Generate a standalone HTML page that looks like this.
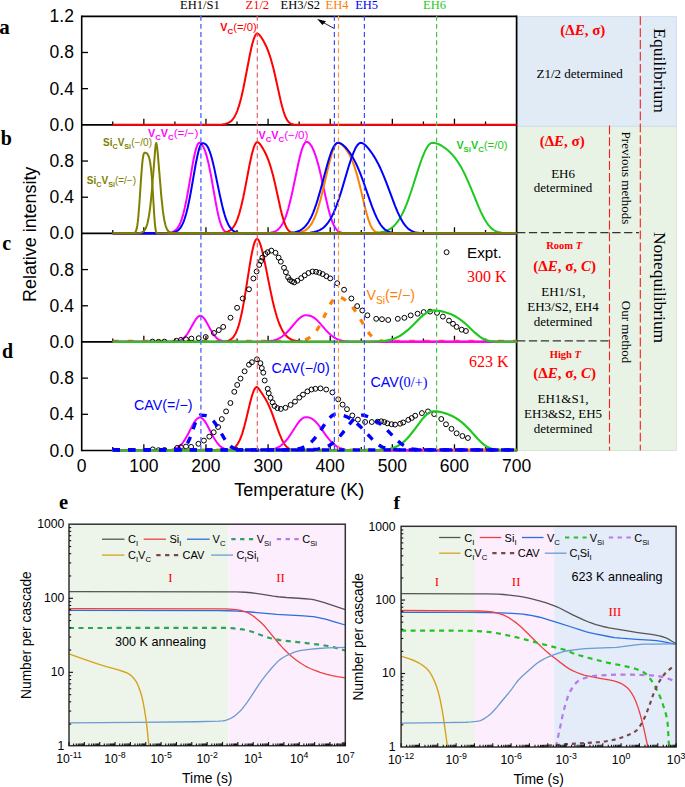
<!DOCTYPE html><html><head><meta charset="utf-8"><style>html,body{margin:0;padding:0;background:#fff;width:685px;height:787px;overflow:hidden}</style></head><body><svg width="685" height="787" viewBox="0 0 685 787" style="display:block">
<rect width="685" height="787" fill="#fff"/>
<defs><clipPath id="clipc"><rect x="81.70" y="233.40" width="434.90" height="108.35"/></clipPath><clipPath id="clipd"><rect x="81.70" y="341.95" width="434.90" height="108.35"/></clipPath></defs>
<rect x="517" y="126.2" width="159.3" height="324.3" fill="#e8f3e6" stroke="#d5e8cf" stroke-width="1"/>
<rect x="517" y="16.6" width="159.3" height="109.6" fill="#e0ebf6" stroke="#cddff0" stroke-width="1"/>
<g stroke="#000" fill="none">
<line x1="81.70" y1="16.30" x2="516.60" y2="16.30" stroke-width="1.7"/>
<line x1="81.70" y1="15.50" x2="81.70" y2="451.30" stroke-width="1.6"/>
<line x1="516.60" y1="15.50" x2="516.60" y2="451.30" stroke-width="1.7"/>
<line x1="81.70" y1="124.85" x2="516.60" y2="124.85" stroke-width="1.7"/>
<line x1="112.76" y1="124.85" x2="112.76" y2="121.45" stroke-width="1.3"/>
<line x1="143.83" y1="124.85" x2="143.83" y2="118.65" stroke-width="1.3"/>
<line x1="174.89" y1="124.85" x2="174.89" y2="121.45" stroke-width="1.3"/>
<line x1="205.96" y1="124.85" x2="205.96" y2="118.65" stroke-width="1.3"/>
<line x1="237.02" y1="124.85" x2="237.02" y2="121.45" stroke-width="1.3"/>
<line x1="268.09" y1="124.85" x2="268.09" y2="118.65" stroke-width="1.3"/>
<line x1="299.15" y1="124.85" x2="299.15" y2="121.45" stroke-width="1.3"/>
<line x1="330.21" y1="124.85" x2="330.21" y2="118.65" stroke-width="1.3"/>
<line x1="361.28" y1="124.85" x2="361.28" y2="121.45" stroke-width="1.3"/>
<line x1="392.34" y1="124.85" x2="392.34" y2="118.65" stroke-width="1.3"/>
<line x1="423.41" y1="124.85" x2="423.41" y2="121.45" stroke-width="1.3"/>
<line x1="454.47" y1="124.85" x2="454.47" y2="118.65" stroke-width="1.3"/>
<line x1="485.54" y1="124.85" x2="485.54" y2="121.45" stroke-width="1.3"/>
<line x1="81.70" y1="88.67" x2="88.00" y2="88.67" stroke-width="1.3"/>
<line x1="81.70" y1="52.48" x2="88.00" y2="52.48" stroke-width="1.3"/>
<line x1="81.70" y1="233.40" x2="516.60" y2="233.40" stroke-width="1.7"/>
<line x1="112.76" y1="233.40" x2="112.76" y2="230.00" stroke-width="1.3"/>
<line x1="143.83" y1="233.40" x2="143.83" y2="227.20" stroke-width="1.3"/>
<line x1="174.89" y1="233.40" x2="174.89" y2="230.00" stroke-width="1.3"/>
<line x1="205.96" y1="233.40" x2="205.96" y2="227.20" stroke-width="1.3"/>
<line x1="237.02" y1="233.40" x2="237.02" y2="230.00" stroke-width="1.3"/>
<line x1="268.09" y1="233.40" x2="268.09" y2="227.20" stroke-width="1.3"/>
<line x1="299.15" y1="233.40" x2="299.15" y2="230.00" stroke-width="1.3"/>
<line x1="330.21" y1="233.40" x2="330.21" y2="227.20" stroke-width="1.3"/>
<line x1="361.28" y1="233.40" x2="361.28" y2="230.00" stroke-width="1.3"/>
<line x1="392.34" y1="233.40" x2="392.34" y2="227.20" stroke-width="1.3"/>
<line x1="423.41" y1="233.40" x2="423.41" y2="230.00" stroke-width="1.3"/>
<line x1="454.47" y1="233.40" x2="454.47" y2="227.20" stroke-width="1.3"/>
<line x1="485.54" y1="233.40" x2="485.54" y2="230.00" stroke-width="1.3"/>
<line x1="81.70" y1="197.22" x2="88.00" y2="197.22" stroke-width="1.3"/>
<line x1="81.70" y1="161.03" x2="88.00" y2="161.03" stroke-width="1.3"/>
<line x1="81.70" y1="341.95" x2="516.60" y2="341.95" stroke-width="1.7"/>
<line x1="112.76" y1="341.95" x2="112.76" y2="338.55" stroke-width="1.3"/>
<line x1="143.83" y1="341.95" x2="143.83" y2="335.75" stroke-width="1.3"/>
<line x1="174.89" y1="341.95" x2="174.89" y2="338.55" stroke-width="1.3"/>
<line x1="205.96" y1="341.95" x2="205.96" y2="335.75" stroke-width="1.3"/>
<line x1="237.02" y1="341.95" x2="237.02" y2="338.55" stroke-width="1.3"/>
<line x1="268.09" y1="341.95" x2="268.09" y2="335.75" stroke-width="1.3"/>
<line x1="299.15" y1="341.95" x2="299.15" y2="338.55" stroke-width="1.3"/>
<line x1="330.21" y1="341.95" x2="330.21" y2="335.75" stroke-width="1.3"/>
<line x1="361.28" y1="341.95" x2="361.28" y2="338.55" stroke-width="1.3"/>
<line x1="392.34" y1="341.95" x2="392.34" y2="335.75" stroke-width="1.3"/>
<line x1="423.41" y1="341.95" x2="423.41" y2="338.55" stroke-width="1.3"/>
<line x1="454.47" y1="341.95" x2="454.47" y2="335.75" stroke-width="1.3"/>
<line x1="485.54" y1="341.95" x2="485.54" y2="338.55" stroke-width="1.3"/>
<line x1="81.70" y1="305.77" x2="88.00" y2="305.77" stroke-width="1.3"/>
<line x1="81.70" y1="269.58" x2="88.00" y2="269.58" stroke-width="1.3"/>
<line x1="81.70" y1="450.50" x2="516.60" y2="450.50" stroke-width="1.7"/>
<line x1="112.76" y1="450.50" x2="112.76" y2="447.10" stroke-width="1.3"/>
<line x1="143.83" y1="450.50" x2="143.83" y2="444.30" stroke-width="1.3"/>
<line x1="174.89" y1="450.50" x2="174.89" y2="447.10" stroke-width="1.3"/>
<line x1="205.96" y1="450.50" x2="205.96" y2="444.30" stroke-width="1.3"/>
<line x1="237.02" y1="450.50" x2="237.02" y2="447.10" stroke-width="1.3"/>
<line x1="268.09" y1="450.50" x2="268.09" y2="444.30" stroke-width="1.3"/>
<line x1="299.15" y1="450.50" x2="299.15" y2="447.10" stroke-width="1.3"/>
<line x1="330.21" y1="450.50" x2="330.21" y2="444.30" stroke-width="1.3"/>
<line x1="361.28" y1="450.50" x2="361.28" y2="447.10" stroke-width="1.3"/>
<line x1="392.34" y1="450.50" x2="392.34" y2="444.30" stroke-width="1.3"/>
<line x1="423.41" y1="450.50" x2="423.41" y2="447.10" stroke-width="1.3"/>
<line x1="454.47" y1="450.50" x2="454.47" y2="444.30" stroke-width="1.3"/>
<line x1="485.54" y1="450.50" x2="485.54" y2="447.10" stroke-width="1.3"/>
<line x1="81.70" y1="414.32" x2="88.00" y2="414.32" stroke-width="1.3"/>
<line x1="81.70" y1="378.13" x2="88.00" y2="378.13" stroke-width="1.3"/>
</g>
<path d="M112.76,124.70 L217.72,124.64 L222.22,124.41 L225.22,123.97 L227.72,123.19 L229.72,122.13 L231.22,120.96 L232.22,119.95 L233.72,118.01 L234.71,116.40 L236.21,113.42 L237.21,111.03 L239.21,105.16 L241.21,97.79 L243.21,88.99 L245.21,79.06 L249.71,55.48 L251.21,48.43 L252.21,44.28 L253.71,39.13 L254.71,36.55 L255.71,34.73 L256.21,34.12 L256.71,33.72 L257.21,33.53 L257.71,33.58 L258.21,33.82 L259.20,34.67 L260.70,36.52 L262.20,38.79 L263.70,41.35 L265.20,44.21 L266.70,47.42 L268.20,51.09 L269.70,55.31 L270.70,58.45 L273.20,67.54 L275.20,75.97 L280.70,100.87 L282.20,106.84 L283.69,111.98 L285.19,116.15 L286.19,118.36 L287.19,120.14 L288.19,121.52 L289.19,122.56 L290.19,123.31 L291.69,124.03 L293.69,124.48 L297.19,124.68 L516.60,124.70" fill="none" stroke="#ff0000" stroke-width="2.0" stroke-linejoin="round"/>
<path d="M112.76,233.25 L161.74,233.23 L166.74,233.09 L169.74,232.76 L172.24,232.12 L174.24,231.15 L175.24,230.43 L176.24,229.52 L177.24,228.37 L178.24,226.93 L179.74,224.16 L180.74,221.83 L181.74,219.09 L183.24,214.10 L184.74,208.05 L186.73,198.38 L188.23,190.13 L192.73,163.80 L194.73,153.78 L196.23,148.03 L197.23,145.29 L197.73,144.28 L198.23,143.53 L198.73,143.03 L199.23,142.81 L199.73,142.82 L200.23,142.96 L201.23,143.66 L202.23,144.89 L203.23,146.62 L204.23,148.81 L205.23,151.47 L206.23,154.58 L207.23,158.15 L208.73,164.37 L210.72,174.17 L215.72,202.44 L217.22,210.25 L218.72,217.01 L220.22,222.46 L221.72,226.54 L222.72,228.56 L223.72,230.08 L224.72,231.18 L225.72,231.95 L226.72,232.46 L227.72,232.79 L229.72,233.12 L232.72,233.23 L516.60,233.25" fill="none" stroke="#ff00ff" stroke-width="2.0" stroke-linejoin="round"/>
<path d="M112.76,233.25 L261.70,233.22 L266.70,233.07 L270.20,232.74 L272.70,232.24 L275.20,231.33 L276.70,230.50 L278.20,229.38 L279.70,227.89 L281.20,225.96 L282.70,223.52 L283.69,221.56 L285.19,218.08 L286.19,215.38 L288.19,209.03 L290.69,199.36 L293.19,188.09 L298.19,164.01 L299.69,157.48 L300.69,153.58 L302.19,148.60 L303.69,144.88 L304.69,143.19 L305.19,142.60 L305.69,142.19 L306.19,141.95 L306.69,141.89 L307.68,142.08 L308.68,142.64 L309.68,143.55 L311.18,145.57 L312.18,147.32 L313.68,150.53 L314.68,153.05 L316.18,157.41 L318.18,164.26 L320.18,172.21 L326.18,199.45 L328.18,208.01 L330.18,215.46 L332.18,221.49 L333.67,225.01 L334.67,226.90 L335.67,228.45 L336.67,229.69 L337.67,230.67 L338.67,231.41 L340.17,232.20 L341.67,232.68 L343.67,233.02 L345.67,233.16 L348.67,233.23 L516.60,233.25" fill="none" stroke="#ff00ff" stroke-width="2.0" stroke-linejoin="round"/>
<path d="M112.76,233.25 L217.72,233.19 L222.22,232.96 L225.22,232.52 L227.72,231.74 L229.72,230.68 L231.22,229.51 L232.22,228.50 L233.72,226.56 L234.71,224.95 L236.21,221.97 L237.21,219.58 L239.21,213.71 L241.21,206.34 L243.21,197.54 L245.21,187.61 L249.71,164.03 L251.21,156.98 L252.21,152.83 L253.71,147.68 L254.71,145.10 L255.71,143.28 L256.21,142.67 L256.71,142.27 L257.21,142.08 L257.71,142.13 L258.21,142.37 L259.20,143.22 L260.70,145.07 L262.20,147.34 L263.70,149.90 L265.20,152.76 L266.70,155.97 L268.20,159.64 L269.70,163.86 L270.70,167.00 L273.20,176.09 L275.20,184.52 L280.70,209.42 L282.20,215.39 L283.69,220.53 L285.19,224.70 L286.19,226.91 L287.19,228.69 L288.19,230.07 L289.19,231.11 L290.19,231.86 L291.69,232.58 L293.69,233.03 L297.19,233.23 L516.60,233.25" fill="none" stroke="#ff0000" stroke-width="2.0" stroke-linejoin="round"/>
<path d="M112.76,233.25 L288.19,233.22 L293.69,233.08 L297.69,232.75 L300.69,232.20 L303.19,231.38 L305.19,230.38 L306.69,229.35 L308.68,227.51 L310.18,225.70 L311.68,223.47 L313.18,220.77 L314.68,217.53 L315.68,215.07 L316.68,212.35 L318.18,207.80 L320.68,199.01 L323.18,188.96 L328.68,165.36 L330.18,159.47 L331.68,154.19 L332.67,151.12 L333.67,148.47 L335.17,145.38 L336.17,143.96 L336.67,143.46 L337.17,143.09 L337.67,142.87 L338.17,142.79 L338.67,142.83 L339.67,143.14 L341.17,144.06 L343.17,145.88 L345.17,148.20 L347.17,150.98 L348.67,153.40 L350.67,157.18 L352.17,160.52 L353.67,164.35 L354.67,167.20 L357.16,175.39 L359.66,184.99 L365.66,210.04 L367.16,215.57 L368.66,220.39 L370.16,224.37 L371.16,226.53 L372.16,228.30 L373.16,229.71 L374.16,230.80 L375.16,231.61 L376.16,232.19 L377.16,232.59 L378.66,232.95 L380.66,233.16 L383.15,233.24 L516.60,233.25" fill="none" stroke="#ff8000" stroke-width="2.0" stroke-linejoin="round"/>
<path d="M112.76,233.25 L363.16,233.22 L370.66,233.11 L376.16,232.82 L380.66,232.28 L384.15,231.50 L386.65,230.65 L389.15,229.47 L391.65,227.86 L393.65,226.20 L395.65,224.15 L397.65,221.66 L399.65,218.69 L401.15,216.12 L402.65,213.25 L404.65,208.95 L406.14,205.38 L408.14,200.17 L411.64,190.04 L417.64,171.17 L420.14,163.58 L422.14,158.00 L424.14,153.06 L425.64,149.88 L426.64,148.04 L427.64,146.46 L428.64,145.15 L429.64,144.12 L430.63,143.38 L431.63,142.93 L432.63,142.79 L434.13,142.89 L435.63,143.17 L437.13,143.62 L438.63,144.21 L441.63,145.76 L445.13,148.09 L448.63,150.98 L451.63,153.94 L454.63,157.43 L457.12,160.81 L459.62,164.67 L461.62,168.11 L463.62,171.88 L466.12,177.04 L470.12,186.15 L478.62,206.79 L480.61,211.31 L482.61,215.47 L484.61,219.22 L486.61,222.49 L488.11,224.60 L490.11,226.98 L492.11,228.86 L494.11,230.29 L496.61,231.55 L499.11,232.33 L501.61,232.79 L505.10,233.10 L509.10,233.22 L516.60,233.25" fill="none" stroke="#1ec81e" stroke-width="2.0" stroke-linejoin="round"/>
<path d="M112.76,233.25 L163.74,233.23 L168.74,233.12 L172.24,232.78 L174.74,232.16 L176.74,231.24 L177.74,230.57 L178.74,229.71 L179.74,228.62 L180.74,227.28 L181.74,225.63 L182.74,223.65 L183.74,221.28 L184.74,218.49 L186.23,213.48 L187.73,207.44 L189.73,197.87 L191.23,189.76 L195.73,164.02 L197.73,154.24 L199.23,148.59 L200.23,145.86 L201.23,144.07 L201.73,143.55 L202.23,143.28 L202.73,143.25 L203.73,143.35 L204.73,143.70 L205.73,144.39 L206.73,145.49 L207.73,147.03 L208.73,149.03 L209.72,151.52 L210.72,154.48 L212.22,159.76 L214.22,168.12 L219.72,194.63 L222.22,205.80 L223.72,211.63 L224.72,215.08 L225.72,218.16 L226.72,220.88 L227.72,223.23 L228.72,225.25 L229.72,226.94 L231.22,228.94 L232.22,229.96 L233.72,231.12 L235.21,231.91 L236.71,232.44 L238.21,232.77 L240.21,233.03 L245.71,233.23 L516.60,233.25" fill="none" stroke="#0000ff" stroke-width="2.0" stroke-linejoin="round"/>
<path d="M112.76,233.25 L281.20,233.21 L287.19,233.06 L291.69,232.72 L295.19,232.13 L298.19,231.23 L300.19,230.32 L302.19,229.08 L304.19,227.42 L305.69,225.86 L307.19,223.97 L308.68,221.73 L310.18,219.11 L311.68,216.07 L313.18,212.60 L314.68,208.70 L316.18,204.37 L317.68,199.65 L320.68,189.20 L327.18,164.95 L329.18,158.20 L330.68,153.71 L332.67,148.74 L333.67,146.76 L334.67,145.16 L335.67,143.96 L336.67,143.17 L337.17,142.94 L338.17,142.80 L339.67,143.09 L341.17,143.78 L343.17,145.18 L345.17,147.02 L347.17,149.25 L349.17,151.83 L351.17,154.78 L353.17,158.11 L355.17,161.86 L356.67,164.95 L358.16,168.30 L360.16,173.13 L363.66,182.49 L369.66,199.83 L372.16,206.79 L374.66,213.15 L376.66,217.64 L379.16,222.38 L380.66,224.73 L382.15,226.70 L383.15,227.83 L384.65,229.24 L386.15,230.35 L387.65,231.21 L390.15,232.17 L392.65,232.73 L395.65,233.05 L400.15,233.21 L516.60,233.25" fill="none" stroke="#0000ff" stroke-width="2.0" stroke-linejoin="round"/>
<path d="M112.76,233.25 L298.69,233.21 L305.19,233.05 L310.18,232.69 L314.18,232.04 L317.18,231.19 L319.68,230.12 L321.68,228.96 L323.68,227.45 L325.18,226.05 L327.18,223.78 L328.68,221.74 L330.68,218.52 L332.18,215.72 L333.67,212.56 L335.17,209.04 L336.67,205.18 L338.67,199.52 L341.67,190.10 L349.17,164.83 L351.17,158.70 L353.17,153.30 L355.17,148.83 L356.17,147.01 L357.16,145.50 L358.16,144.31 L359.16,143.45 L360.16,142.95 L361.16,142.79 L361.66,142.88 L362.66,143.27 L364.16,144.25 L365.66,145.56 L367.66,147.67 L369.66,150.11 L372.16,153.53 L374.16,156.59 L376.16,159.96 L378.16,163.67 L379.66,166.69 L383.15,174.54 L386.65,183.36 L395.15,206.06 L397.65,212.07 L399.65,216.39 L401.15,219.28 L402.65,221.86 L403.65,223.40 L405.15,225.44 L406.14,226.63 L407.64,228.15 L409.14,229.40 L410.64,230.40 L413.14,231.60 L414.64,232.10 L416.14,232.46 L419.64,232.95 L423.64,233.17 L516.60,233.25" fill="none" stroke="#0000ff" stroke-width="2.0" stroke-linejoin="round"/>
<path d="M112.76,233.25 L133.26,233.19 L134.26,232.97 L134.76,232.70 L135.26,232.23 L135.75,231.45 L136.25,230.22 L136.75,228.37 L137.25,225.75 L137.75,222.20 L138.25,217.64 L139.25,205.53 L141.25,175.57 L142.25,163.33 L142.75,158.93 L143.25,155.79 L143.75,153.86 L144.25,152.95 L144.75,152.74 L145.75,152.82 L146.25,153.01 L146.75,153.33 L147.25,153.82 L147.75,154.50 L148.25,155.42 L148.75,156.64 L149.25,158.23 L149.75,160.33 L150.25,163.05 L151.25,170.97 L151.75,176.43 L152.75,190.54 L154.25,215.29 L154.75,222.11 L155.25,227.23 L155.75,230.51 L156.25,232.24 L156.75,232.97 L157.25,233.19 L516.60,233.25" fill="none" stroke="#808000" stroke-width="2.0" stroke-linejoin="round"/>
<path d="M112.76,233.25 L134.76,233.23 L137.75,233.15 L139.75,232.96 L141.75,232.43 L143.25,231.58 L144.25,230.61 L144.75,229.96 L145.75,228.20 L146.75,225.65 L147.25,224.01 L148.25,219.80 L149.25,214.12 L150.25,206.71 L151.25,197.41 L152.25,186.26 L155.25,148.76 L155.75,144.42 L156.25,142.98 L156.75,145.08 L157.25,148.72 L157.75,153.45 L161.24,195.36 L162.74,209.67 L163.74,216.82 L164.24,219.72 L165.24,224.30 L165.74,226.06 L166.74,228.72 L167.74,230.49 L168.74,231.61 L169.74,232.31 L171.24,232.86 L173.24,233.14 L175.74,233.23 L516.60,233.25" fill="none" stroke="#808000" stroke-width="2.0" stroke-linejoin="round"/>
<path d="M112.76,341.35 L287.69,341.33 L296.69,341.12 L299.69,340.86 L302.19,340.49 L304.19,340.03 L305.69,339.56 L307.68,338.72 L309.18,337.89 L310.68,336.86 L312.18,335.62 L313.68,334.12 L314.68,332.98 L317.18,329.59 L318.68,327.20 L320.18,324.55 L322.68,319.67 L328.68,307.16 L330.18,304.34 L331.68,301.84 L332.67,300.40 L333.67,299.17 L335.17,297.75 L336.67,296.91 L337.67,296.68 L338.17,296.67 L339.17,296.82 L340.67,297.31 L342.17,298.04 L343.67,298.95 L345.17,299.99 L347.17,301.59 L350.17,304.46 L353.17,307.98 L356.17,312.20 L359.16,317.05 L365.66,328.24 L367.66,331.33 L369.66,334.02 L371.66,336.25 L372.66,337.18 L374.16,338.35 L375.16,338.99 L376.66,339.74 L379.16,340.57 L381.16,340.95 L383.15,341.16 L388.65,341.33 L516.60,341.35" fill="none" stroke="#ff8000" stroke-width="3.2" stroke-dasharray="5.8 9.0" stroke-linejoin="round"/>
<path d="M112.76,341.80 L219.72,341.75 L223.72,341.56 L226.22,341.22 L227.72,340.85 L228.72,340.50 L229.72,340.04 L230.72,339.45 L232.22,338.23 L233.22,337.15 L234.71,335.02 L235.71,333.20 L236.71,331.01 L237.71,328.42 L238.71,325.37 L239.71,321.85 L241.71,313.33 L243.71,302.90 L245.71,290.90 L249.71,265.28 L251.21,256.54 L252.21,251.40 L253.71,245.09 L254.71,242.01 L255.71,239.94 L256.21,239.30 L256.71,238.95 L257.21,238.87 L257.71,239.13 L258.21,239.67 L258.70,240.43 L259.70,242.58 L260.70,245.44 L262.20,250.83 L264.70,261.89 L270.20,289.36 L272.70,300.92 L274.20,307.17 L275.70,312.82 L276.70,316.23 L278.20,320.81 L279.70,324.78 L281.20,328.15 L282.70,330.97 L284.19,333.31 L285.69,335.21 L287.69,337.18 L289.69,338.63 L292.19,339.87 L293.69,340.38 L295.19,340.77 L298.69,341.33 L303.19,341.64 L309.18,341.77 L516.60,341.80" fill="none" stroke="#ff0000" stroke-width="2.0" stroke-linejoin="round"/>
<path d="M112.76,341.80 L169.74,341.76 L172.74,341.68 L175.24,341.49 L177.24,341.20 L178.74,340.83 L180.74,340.07 L182.24,339.22 L184.24,337.62 L185.73,336.01 L187.23,334.04 L188.73,331.72 L193.73,322.67 L195.73,319.40 L197.23,317.51 L198.23,316.61 L199.23,316.05 L200.23,315.84 L201.23,316.00 L202.23,316.53 L203.23,317.40 L204.23,318.57 L206.23,321.65 L210.22,329.05 L212.22,332.50 L214.22,335.39 L216.22,337.63 L218.22,339.24 L219.22,339.84 L220.72,340.52 L223.22,341.21 L226.22,341.60 L232.22,341.78 L516.60,341.80" fill="none" stroke="#ff00ff" stroke-width="2.0" stroke-linejoin="round"/>
<path d="M112.76,341.80 L255.21,341.78 L264.20,341.61 L267.20,341.42 L270.20,341.09 L273.70,340.41 L276.70,339.46 L279.70,338.06 L282.20,336.47 L284.69,334.47 L287.69,331.54 L290.19,328.75 L296.19,321.62 L299.19,318.55 L301.19,316.95 L302.69,316.06 L303.69,315.64 L304.69,315.35 L306.19,315.21 L308.68,315.41 L310.68,315.95 L312.68,316.88 L315.18,318.60 L317.18,320.37 L319.18,322.41 L325.68,329.84 L328.18,332.53 L331.18,335.32 L333.67,337.21 L336.17,338.69 L339.17,339.96 L342.17,340.78 L345.17,341.27 L350.17,341.65 L357.16,341.78 L516.60,341.80" fill="none" stroke="#ff00ff" stroke-width="2.0" stroke-linejoin="round"/>
<g clip-path="url(#clipc)">
<circle cx="152.4" cy="341.6" r="2.45" fill="none" stroke="#000" stroke-width="1"/>
<circle cx="158.5" cy="341.8" r="2.45" fill="none" stroke="#000" stroke-width="1"/>
<circle cx="164.5" cy="341.6" r="2.45" fill="none" stroke="#000" stroke-width="1"/>
<circle cx="176.5" cy="340.8" r="2.45" fill="none" stroke="#000" stroke-width="1"/>
<circle cx="180.9" cy="339.9" r="2.45" fill="none" stroke="#000" stroke-width="1"/>
<circle cx="186.0" cy="339.3" r="2.45" fill="none" stroke="#000" stroke-width="1"/>
<circle cx="191.4" cy="338.6" r="2.45" fill="none" stroke="#000" stroke-width="1"/>
<circle cx="198.7" cy="338.2" r="2.45" fill="none" stroke="#000" stroke-width="1"/>
<circle cx="205.7" cy="337.0" r="2.45" fill="none" stroke="#000" stroke-width="1"/>
<circle cx="214.0" cy="333.0" r="2.45" fill="none" stroke="#000" stroke-width="1"/>
<circle cx="218.8" cy="330.1" r="2.45" fill="none" stroke="#000" stroke-width="1"/>
<circle cx="223.2" cy="326.9" r="2.45" fill="none" stroke="#000" stroke-width="1"/>
<circle cx="230.5" cy="317.7" r="2.45" fill="none" stroke="#000" stroke-width="1"/>
<circle cx="237.1" cy="307.8" r="2.45" fill="none" stroke="#000" stroke-width="1"/>
<circle cx="242.8" cy="298.5" r="2.45" fill="none" stroke="#000" stroke-width="1"/>
<circle cx="249.0" cy="289.3" r="2.45" fill="none" stroke="#000" stroke-width="1"/>
<circle cx="253.4" cy="278.5" r="2.45" fill="none" stroke="#000" stroke-width="1"/>
<circle cx="256.6" cy="271.5" r="2.45" fill="none" stroke="#000" stroke-width="1"/>
<circle cx="259.2" cy="264.9" r="2.45" fill="none" stroke="#000" stroke-width="1"/>
<circle cx="261.1" cy="261.0" r="2.45" fill="none" stroke="#000" stroke-width="1"/>
<circle cx="262.4" cy="257.6" r="2.45" fill="none" stroke="#000" stroke-width="1"/>
<circle cx="265.5" cy="254.0" r="2.45" fill="none" stroke="#000" stroke-width="1"/>
<circle cx="267.7" cy="252.2" r="2.45" fill="none" stroke="#000" stroke-width="1"/>
<circle cx="271.3" cy="250.6" r="2.45" fill="none" stroke="#000" stroke-width="1"/>
<circle cx="275.5" cy="252.8" r="2.45" fill="none" stroke="#000" stroke-width="1"/>
<circle cx="278.6" cy="257.6" r="2.45" fill="none" stroke="#000" stroke-width="1"/>
<circle cx="280.8" cy="261.7" r="2.45" fill="none" stroke="#000" stroke-width="1"/>
<circle cx="284.0" cy="267.8" r="2.45" fill="none" stroke="#000" stroke-width="1"/>
<circle cx="285.9" cy="272.2" r="2.45" fill="none" stroke="#000" stroke-width="1"/>
<circle cx="288.1" cy="277.3" r="2.45" fill="none" stroke="#000" stroke-width="1"/>
<circle cx="289.9" cy="280.0" r="2.45" fill="none" stroke="#000" stroke-width="1"/>
<circle cx="292.0" cy="281.4" r="2.45" fill="none" stroke="#000" stroke-width="1"/>
<circle cx="294.2" cy="282.4" r="2.45" fill="none" stroke="#000" stroke-width="1"/>
<circle cx="297.4" cy="280.7" r="2.45" fill="none" stroke="#000" stroke-width="1"/>
<circle cx="301.2" cy="278.1" r="2.45" fill="none" stroke="#000" stroke-width="1"/>
<circle cx="304.7" cy="275.4" r="2.45" fill="none" stroke="#000" stroke-width="1"/>
<circle cx="308.5" cy="273.0" r="2.45" fill="none" stroke="#000" stroke-width="1"/>
<circle cx="312.5" cy="271.5" r="2.45" fill="none" stroke="#000" stroke-width="1"/>
<circle cx="316.1" cy="271.8" r="2.45" fill="none" stroke="#000" stroke-width="1"/>
<circle cx="319.3" cy="272.7" r="2.45" fill="none" stroke="#000" stroke-width="1"/>
<circle cx="322.7" cy="274.1" r="2.45" fill="none" stroke="#000" stroke-width="1"/>
<circle cx="326.4" cy="276.2" r="2.45" fill="none" stroke="#000" stroke-width="1"/>
<circle cx="330.2" cy="278.4" r="2.45" fill="none" stroke="#000" stroke-width="1"/>
<circle cx="337.2" cy="283.2" r="2.45" fill="none" stroke="#000" stroke-width="1"/>
<circle cx="344.1" cy="289.7" r="2.45" fill="none" stroke="#000" stroke-width="1"/>
<circle cx="351.4" cy="298.5" r="2.45" fill="none" stroke="#000" stroke-width="1"/>
<circle cx="357.2" cy="306.1" r="2.45" fill="none" stroke="#000" stroke-width="1"/>
<circle cx="362.3" cy="310.5" r="2.45" fill="none" stroke="#000" stroke-width="1"/>
<circle cx="367.4" cy="315.3" r="2.45" fill="none" stroke="#000" stroke-width="1"/>
<circle cx="376.2" cy="318.8" r="2.45" fill="none" stroke="#000" stroke-width="1"/>
<circle cx="382.0" cy="319.2" r="2.45" fill="none" stroke="#000" stroke-width="1"/>
<circle cx="388.2" cy="320.0" r="2.45" fill="none" stroke="#000" stroke-width="1"/>
<circle cx="397.8" cy="318.8" r="2.45" fill="none" stroke="#000" stroke-width="1"/>
<circle cx="404.4" cy="317.8" r="2.45" fill="none" stroke="#000" stroke-width="1"/>
<circle cx="410.7" cy="315.4" r="2.45" fill="none" stroke="#000" stroke-width="1"/>
<circle cx="417.6" cy="313.7" r="2.45" fill="none" stroke="#000" stroke-width="1"/>
<circle cx="423.7" cy="312.1" r="2.45" fill="none" stroke="#000" stroke-width="1"/>
<circle cx="430.1" cy="311.6" r="2.45" fill="none" stroke="#000" stroke-width="1"/>
<circle cx="437.0" cy="312.9" r="2.45" fill="none" stroke="#000" stroke-width="1"/>
<circle cx="442.9" cy="316.6" r="2.45" fill="none" stroke="#000" stroke-width="1"/>
<circle cx="449.0" cy="320.6" r="2.45" fill="none" stroke="#000" stroke-width="1"/>
<circle cx="453.0" cy="323.8" r="2.45" fill="none" stroke="#000" stroke-width="1"/>
<circle cx="456.6" cy="326.9" r="2.45" fill="none" stroke="#000" stroke-width="1"/>
<circle cx="461.7" cy="329.7" r="2.45" fill="none" stroke="#000" stroke-width="1"/>
<circle cx="465.9" cy="331.0" r="2.45" fill="none" stroke="#000" stroke-width="1"/>
</g>
<g>
<circle cx="446.6" cy="252.2" r="2.45" fill="none" stroke="#000" stroke-width="1"/>
</g>
<path d="M112.76,341.85 L362.16,341.83 L374.16,341.66 L378.66,341.46 L382.15,341.18 L385.15,340.82 L387.65,340.40 L390.15,339.84 L392.15,339.29 L394.15,338.61 L396.15,337.80 L398.15,336.85 L400.15,335.75 L403.65,333.44 L407.64,330.21 L411.64,326.46 L420.14,317.94 L422.64,315.68 L424.64,314.08 L427.14,312.42 L429.64,311.22 L431.13,310.74 L432.13,310.53 L434.13,310.37 L436.63,310.50 L439.13,310.83 L442.13,311.43 L445.13,312.22 L448.13,313.18 L451.13,314.35 L453.63,315.50 L456.12,316.84 L459.62,319.08 L463.62,322.17 L467.12,325.28 L474.62,332.43 L478.12,335.44 L480.11,336.93 L482.11,338.20 L483.61,339.01 L485.61,339.89 L487.61,340.56 L489.61,341.04 L492.11,341.43 L494.61,341.65 L500.61,341.83 L516.60,341.85" fill="none" stroke="#1ec81e" stroke-width="2.2" stroke-linejoin="round"/>
<path d="M112.76,450.35 L221.72,450.32 L225.72,450.19 L228.22,449.95 L230.22,449.57 L232.22,448.87 L233.72,448.05 L234.71,447.31 L235.71,446.37 L236.71,445.22 L237.71,443.81 L238.71,442.11 L239.71,440.10 L240.71,437.76 L242.21,433.60 L244.21,426.87 L246.21,419.02 L250.21,402.24 L252.21,394.99 L253.71,390.80 L254.71,388.79 L255.71,387.49 L256.21,387.13 L256.71,386.95 L257.21,387.09 L258.21,388.09 L259.70,390.09 L261.70,393.01 L265.20,398.50 L266.70,401.17 L268.20,404.11 L270.20,408.55 L272.20,413.57 L277.70,429.05 L279.70,434.41 L281.70,439.12 L283.19,442.08 L284.19,443.76 L285.19,445.20 L286.19,446.40 L287.19,447.39 L288.19,448.17 L289.19,448.79 L290.19,449.25 L291.69,449.74 L293.19,450.03 L294.69,450.19 L298.69,450.33 L516.60,450.35" fill="none" stroke="#ff0000" stroke-width="2.0" stroke-linejoin="round"/>
<path d="M112.76,450.35 L164.74,450.28 L168.24,450.13 L170.74,449.87 L173.24,449.40 L175.24,448.76 L177.24,447.80 L179.24,446.43 L181.24,444.55 L182.74,442.77 L184.24,440.67 L186.23,437.39 L188.23,433.67 L192.23,425.85 L193.73,423.18 L194.73,421.60 L196.23,419.64 L197.23,418.66 L198.23,417.97 L198.73,417.74 L199.73,417.52 L200.73,417.63 L201.23,417.80 L202.23,418.39 L203.23,419.27 L204.73,421.11 L205.73,422.62 L207.23,425.21 L212.22,434.93 L214.22,438.52 L216.72,442.32 L218.72,444.72 L219.72,445.70 L221.22,446.93 L222.22,447.60 L223.72,448.40 L225.22,449.00 L226.72,449.43 L228.22,449.74 L230.22,450.01 L233.72,450.24 L238.71,450.33 L516.60,450.35" fill="none" stroke="#ff00ff" stroke-width="2.0" stroke-linejoin="round"/>
<path d="M112.76,450.35 L256.71,450.33 L265.70,450.13 L268.70,449.89 L271.20,449.55 L274.70,448.73 L276.20,448.20 L277.70,447.54 L279.20,446.72 L280.70,445.73 L283.19,443.66 L285.69,441.03 L288.19,437.85 L290.69,434.22 L296.69,424.93 L298.19,422.84 L299.69,420.99 L301.69,419.00 L303.19,417.95 L304.69,417.33 L306.19,417.15 L307.68,417.24 L308.68,417.41 L310.68,418.08 L312.68,419.22 L313.68,419.96 L315.18,421.30 L317.18,423.43 L319.18,425.91 L326.18,435.66 L328.68,438.93 L331.68,442.32 L334.17,444.62 L336.67,446.43 L338.17,447.29 L339.67,448.00 L342.67,449.03 L345.67,449.65 L348.17,449.96 L351.17,450.17 L359.16,450.33 L516.60,450.35" fill="none" stroke="#ff00ff" stroke-width="2.0" stroke-linejoin="round"/>
<g clip-path="url(#clipd)">
<circle cx="152.8" cy="449.4" r="2.45" fill="none" stroke="#000" stroke-width="1"/>
<circle cx="158.5" cy="450.2" r="2.45" fill="none" stroke="#000" stroke-width="1"/>
<circle cx="164.5" cy="450.0" r="2.45" fill="none" stroke="#000" stroke-width="1"/>
<circle cx="177.2" cy="447.9" r="2.45" fill="none" stroke="#000" stroke-width="1"/>
<circle cx="180.9" cy="447.2" r="2.45" fill="none" stroke="#000" stroke-width="1"/>
<circle cx="186.0" cy="446.5" r="2.45" fill="none" stroke="#000" stroke-width="1"/>
<circle cx="191.1" cy="446.9" r="2.45" fill="none" stroke="#000" stroke-width="1"/>
<circle cx="198.4" cy="443.8" r="2.45" fill="none" stroke="#000" stroke-width="1"/>
<circle cx="203.9" cy="440.6" r="2.45" fill="none" stroke="#000" stroke-width="1"/>
<circle cx="209.3" cy="436.6" r="2.45" fill="none" stroke="#000" stroke-width="1"/>
<circle cx="213.7" cy="432.3" r="2.45" fill="none" stroke="#000" stroke-width="1"/>
<circle cx="218.1" cy="427.0" r="2.45" fill="none" stroke="#000" stroke-width="1"/>
<circle cx="221.8" cy="419.1" r="2.45" fill="none" stroke="#000" stroke-width="1"/>
<circle cx="226.1" cy="411.4" r="2.45" fill="none" stroke="#000" stroke-width="1"/>
<circle cx="230.4" cy="403.0" r="2.45" fill="none" stroke="#000" stroke-width="1"/>
<circle cx="234.3" cy="391.8" r="2.45" fill="none" stroke="#000" stroke-width="1"/>
<circle cx="237.2" cy="384.9" r="2.45" fill="none" stroke="#000" stroke-width="1"/>
<circle cx="240.5" cy="378.6" r="2.45" fill="none" stroke="#000" stroke-width="1"/>
<circle cx="244.6" cy="371.3" r="2.45" fill="none" stroke="#000" stroke-width="1"/>
<circle cx="249.0" cy="364.7" r="2.45" fill="none" stroke="#000" stroke-width="1"/>
<circle cx="251.9" cy="362.2" r="2.45" fill="none" stroke="#000" stroke-width="1"/>
<circle cx="257.0" cy="359.3" r="2.45" fill="none" stroke="#000" stroke-width="1"/>
<circle cx="260.4" cy="363.2" r="2.45" fill="none" stroke="#000" stroke-width="1"/>
<circle cx="261.8" cy="368.1" r="2.45" fill="none" stroke="#000" stroke-width="1"/>
<circle cx="263.3" cy="372.7" r="2.45" fill="none" stroke="#000" stroke-width="1"/>
<circle cx="264.7" cy="380.5" r="2.45" fill="none" stroke="#000" stroke-width="1"/>
<circle cx="267.7" cy="388.8" r="2.45" fill="none" stroke="#000" stroke-width="1"/>
<circle cx="268.7" cy="393.2" r="2.45" fill="none" stroke="#000" stroke-width="1"/>
<circle cx="270.6" cy="397.8" r="2.45" fill="none" stroke="#000" stroke-width="1"/>
<circle cx="272.6" cy="402.4" r="2.45" fill="none" stroke="#000" stroke-width="1"/>
<circle cx="274.5" cy="406.0" r="2.45" fill="none" stroke="#000" stroke-width="1"/>
<circle cx="277.4" cy="408.1" r="2.45" fill="none" stroke="#000" stroke-width="1"/>
<circle cx="280.8" cy="408.9" r="2.45" fill="none" stroke="#000" stroke-width="1"/>
<circle cx="285.5" cy="407.8" r="2.45" fill="none" stroke="#000" stroke-width="1"/>
<circle cx="290.6" cy="404.9" r="2.45" fill="none" stroke="#000" stroke-width="1"/>
<circle cx="295.0" cy="401.6" r="2.45" fill="none" stroke="#000" stroke-width="1"/>
<circle cx="299.3" cy="397.6" r="2.45" fill="none" stroke="#000" stroke-width="1"/>
<circle cx="303.0" cy="394.6" r="2.45" fill="none" stroke="#000" stroke-width="1"/>
<circle cx="307.4" cy="391.4" r="2.45" fill="none" stroke="#000" stroke-width="1"/>
<circle cx="311.5" cy="389.5" r="2.45" fill="none" stroke="#000" stroke-width="1"/>
<circle cx="315.4" cy="388.8" r="2.45" fill="none" stroke="#000" stroke-width="1"/>
<circle cx="320.5" cy="388.4" r="2.45" fill="none" stroke="#000" stroke-width="1"/>
<circle cx="326.2" cy="389.5" r="2.45" fill="none" stroke="#000" stroke-width="1"/>
<circle cx="332.4" cy="392.4" r="2.45" fill="none" stroke="#000" stroke-width="1"/>
<circle cx="338.2" cy="399.3" r="2.45" fill="none" stroke="#000" stroke-width="1"/>
<circle cx="342.6" cy="404.6" r="2.45" fill="none" stroke="#000" stroke-width="1"/>
<circle cx="347.0" cy="409.2" r="2.45" fill="none" stroke="#000" stroke-width="1"/>
<circle cx="352.3" cy="415.5" r="2.45" fill="none" stroke="#000" stroke-width="1"/>
<circle cx="357.9" cy="419.6" r="2.45" fill="none" stroke="#000" stroke-width="1"/>
<circle cx="365.1" cy="422.0" r="2.45" fill="none" stroke="#000" stroke-width="1"/>
<circle cx="371.8" cy="422.0" r="2.45" fill="none" stroke="#000" stroke-width="1"/>
<circle cx="377.7" cy="421.7" r="2.45" fill="none" stroke="#000" stroke-width="1"/>
<circle cx="381.2" cy="421.3" r="2.45" fill="none" stroke="#000" stroke-width="1"/>
<circle cx="384.3" cy="422.0" r="2.45" fill="none" stroke="#000" stroke-width="1"/>
<circle cx="387.3" cy="423.3" r="2.45" fill="none" stroke="#000" stroke-width="1"/>
<circle cx="391.5" cy="424.2" r="2.45" fill="none" stroke="#000" stroke-width="1"/>
<circle cx="395.1" cy="424.6" r="2.45" fill="none" stroke="#000" stroke-width="1"/>
<circle cx="400.2" cy="423.7" r="2.45" fill="none" stroke="#000" stroke-width="1"/>
<circle cx="403.2" cy="422.5" r="2.45" fill="none" stroke="#000" stroke-width="1"/>
<circle cx="408.3" cy="419.9" r="2.45" fill="none" stroke="#000" stroke-width="1"/>
<circle cx="411.7" cy="418.0" r="2.45" fill="none" stroke="#000" stroke-width="1"/>
<circle cx="415.2" cy="415.7" r="2.45" fill="none" stroke="#000" stroke-width="1"/>
<circle cx="421.9" cy="413.1" r="2.45" fill="none" stroke="#000" stroke-width="1"/>
<circle cx="428.0" cy="411.4" r="2.45" fill="none" stroke="#000" stroke-width="1"/>
<circle cx="434.2" cy="414.1" r="2.45" fill="none" stroke="#000" stroke-width="1"/>
<circle cx="441.3" cy="419.0" r="2.45" fill="none" stroke="#000" stroke-width="1"/>
<circle cx="446.0" cy="424.3" r="2.45" fill="none" stroke="#000" stroke-width="1"/>
<circle cx="451.5" cy="428.8" r="2.45" fill="none" stroke="#000" stroke-width="1"/>
<circle cx="456.6" cy="433.3" r="2.45" fill="none" stroke="#000" stroke-width="1"/>
<circle cx="462.4" cy="436.0" r="2.45" fill="none" stroke="#000" stroke-width="1"/>
<circle cx="467.9" cy="438.0" r="2.45" fill="none" stroke="#000" stroke-width="1"/>
</g>
<path d="M112.76,449.90 L516.60,449.90" fill="none" stroke="#ff8000" stroke-width="3.0" stroke-dasharray="5.8 9.0" stroke-linejoin="round"/>
<path d="M112.76,450.40 L366.16,450.38 L377.66,450.19 L381.65,449.97 L385.15,449.63 L387.65,449.27 L390.15,448.76 L392.65,448.07 L394.65,447.35 L396.65,446.48 L398.65,445.41 L400.65,444.15 L402.15,443.05 L403.65,441.83 L405.65,440.00 L407.64,437.94 L409.64,435.68 L413.14,431.29 L421.14,420.58 L423.14,418.16 L425.14,415.99 L427.64,413.76 L429.64,412.44 L431.13,411.76 L432.13,411.46 L433.13,411.28 L434.13,411.23 L436.63,411.37 L439.63,411.82 L442.63,412.52 L446.13,413.59 L449.13,414.72 L452.13,416.05 L455.13,417.65 L457.62,419.20 L459.62,420.61 L461.62,422.17 L463.62,423.88 L466.12,426.23 L469.62,429.86 L477.62,438.69 L481.61,442.66 L483.61,444.36 L485.61,445.83 L487.11,446.78 L489.11,447.83 L491.11,448.64 L493.11,449.25 L495.61,449.77 L498.11,450.08 L504.11,450.36 L516.60,450.40" fill="none" stroke="#1ec81e" stroke-width="2.2" stroke-linejoin="round"/>
<path d="M112.76,449.90 L173.74,449.87 L176.74,449.77 L178.74,449.58 L180.24,449.29 L181.74,448.82 L183.24,448.04 L184.74,446.87 L186.23,445.15 L187.73,442.81 L189.23,439.77 L190.73,436.07 L195.23,423.08 L196.73,419.34 L197.73,417.40 L198.73,416.02 L199.23,415.56 L199.73,415.28 L200.73,415.16 L204.23,415.33 L205.73,415.61 L206.73,415.90 L208.23,416.53 L209.23,417.10 L211.22,418.62 L213.22,420.70 L215.72,424.04 L218.22,428.04 L224.22,438.35 L226.22,441.34 L228.22,443.87 L229.22,444.94 L230.72,446.29 L231.72,447.03 L233.22,447.93 L234.21,448.39 L235.71,448.93 L237.21,449.29 L239.21,449.60 L241.71,449.79 L245.71,449.88 L516.60,449.90" fill="none" stroke="#0000ff" stroke-width="3.4" stroke-dasharray="7.2 8.2" stroke-linejoin="round"/>
<path d="M112.76,449.90 L280.20,449.88 L290.69,449.67 L294.19,449.41 L297.19,449.02 L299.19,448.63 L301.19,448.10 L303.19,447.39 L304.69,446.73 L306.19,445.94 L307.68,445.00 L309.18,443.90 L310.68,442.64 L313.18,440.15 L316.18,436.56 L319.18,432.41 L325.68,422.78 L327.68,420.10 L329.18,418.32 L331.18,416.35 L332.18,415.56 L333.17,414.93 L334.17,414.45 L335.17,414.14 L336.67,413.99 L338.17,414.10 L340.17,414.46 L342.17,415.01 L344.17,415.72 L346.17,416.57 L348.67,417.81 L350.67,418.94 L352.67,420.22 L356.17,422.83 L360.16,426.39 L363.66,429.96 L372.16,439.16 L374.66,441.59 L376.66,443.33 L379.66,445.53 L382.15,446.95 L385.15,448.19 L388.15,448.99 L390.65,449.40 L393.15,449.64 L396.65,449.81 L401.15,449.88 L516.60,449.90" fill="none" stroke="#0000ff" stroke-width="3.4" stroke-dasharray="7.2 8.2" stroke-linejoin="round"/>
<path d="M112.76,449.90 L299.19,449.88 L310.68,449.68 L314.68,449.43 L317.68,449.10 L321.68,448.36 L323.68,447.82 L325.68,447.13 L327.68,446.27 L329.18,445.50 L331.18,444.28 L332.67,443.22 L335.67,440.70 L339.17,437.10 L342.67,432.90 L350.17,423.28 L352.17,420.97 L353.67,419.42 L356.17,417.28 L358.16,416.04 L360.16,415.30 L361.16,415.12 L362.16,415.08 L363.66,415.27 L365.16,415.66 L368.66,416.98 L373.16,419.22 L377.16,421.68 L380.66,424.25 L384.15,427.24 L387.65,430.60 L396.15,439.29 L398.65,441.60 L400.65,443.27 L403.65,445.39 L406.14,446.79 L409.14,448.03 L412.14,448.86 L414.64,449.30 L417.64,449.61 L425.14,449.87 L516.60,449.90" fill="none" stroke="#0000ff" stroke-width="3.4" stroke-dasharray="7.2 8.2" stroke-linejoin="round"/>
<line x1="200.9" y1="15.9" x2="200.9" y2="450.5" stroke="#5a6cff" stroke-width="1.4" stroke-dasharray="4.8 3.3"/>
<line x1="257.3" y1="15.9" x2="257.3" y2="450.5" stroke="#e8606c" stroke-width="1.2" stroke-dasharray="4.8 3.3"/>
<line x1="334.4" y1="15.9" x2="334.4" y2="450.5" stroke="#3b4cff" stroke-width="1.2" stroke-dasharray="4.8 3.3"/>
<line x1="338.5" y1="15.9" x2="338.5" y2="450.5" stroke="#ff9a3a" stroke-width="1.2" stroke-dasharray="4.8 3.3"/>
<line x1="364.4" y1="15.9" x2="364.4" y2="450.5" stroke="#3b4cff" stroke-width="1.2" stroke-dasharray="4.8 3.3"/>
<line x1="436.6" y1="15.9" x2="436.6" y2="450.5" stroke="#4cbf4c" stroke-width="1.2" stroke-dasharray="4.8 3.3"/>
<text x="180.10" y="9.30" font-family="'Liberation Serif', serif" font-size="12.5" fill="#000" text-anchor="start" font-weight="normal" >EH1/S1</text>
<text x="245.50" y="9.30" font-family="'Liberation Serif', serif" font-size="12.5" fill="#ff0000" text-anchor="start" font-weight="normal" >Z1/2</text>
<text x="280.50" y="9.30" font-family="'Liberation Serif', serif" font-size="12.5" fill="#000" text-anchor="start" font-weight="normal" >EH3/S2</text>
<text x="325.50" y="9.30" font-family="'Liberation Serif', serif" font-size="12.5" fill="#ff8000" text-anchor="start" font-weight="normal" >EH4</text>
<text x="355.20" y="9.30" font-family="'Liberation Serif', serif" font-size="12.5" fill="#0000ff" text-anchor="start" font-weight="normal" >EH5</text>
<text x="423.10" y="9.30" font-family="'Liberation Serif', serif" font-size="12.5" fill="#1ec81e" text-anchor="start" font-weight="normal" >EH6</text>
<line x1="334.1" y1="28.4" x2="323.5" y2="22.7" stroke="#111" stroke-width="0.9"/>
<path d="M317.2,18.9 L326.0,21.2 L322.4,25.0 Z" fill="#000"/>
<text x="73.90" y="130.85" font-family="'Liberation Sans', sans-serif" font-size="17.5" fill="#000" text-anchor="end" font-weight="normal" >0.0</text>
<text x="73.90" y="94.67" font-family="'Liberation Sans', sans-serif" font-size="17.5" fill="#000" text-anchor="end" font-weight="normal" >0.4</text>
<text x="73.90" y="58.48" font-family="'Liberation Sans', sans-serif" font-size="17.5" fill="#000" text-anchor="end" font-weight="normal" >0.8</text>
<text x="73.90" y="22.30" font-family="'Liberation Sans', sans-serif" font-size="17.5" fill="#000" text-anchor="end" font-weight="normal" >1.2</text>
<text x="73.90" y="239.40" font-family="'Liberation Sans', sans-serif" font-size="17.5" fill="#000" text-anchor="end" font-weight="normal" >0.0</text>
<text x="73.90" y="203.22" font-family="'Liberation Sans', sans-serif" font-size="17.5" fill="#000" text-anchor="end" font-weight="normal" >0.4</text>
<text x="73.90" y="167.03" font-family="'Liberation Sans', sans-serif" font-size="17.5" fill="#000" text-anchor="end" font-weight="normal" >0.8</text>
<text x="73.90" y="347.95" font-family="'Liberation Sans', sans-serif" font-size="17.5" fill="#000" text-anchor="end" font-weight="normal" >0.0</text>
<text x="73.90" y="311.77" font-family="'Liberation Sans', sans-serif" font-size="17.5" fill="#000" text-anchor="end" font-weight="normal" >0.4</text>
<text x="73.90" y="275.58" font-family="'Liberation Sans', sans-serif" font-size="17.5" fill="#000" text-anchor="end" font-weight="normal" >0.8</text>
<text x="73.90" y="456.50" font-family="'Liberation Sans', sans-serif" font-size="17.5" fill="#000" text-anchor="end" font-weight="normal" >0.0</text>
<text x="73.90" y="420.32" font-family="'Liberation Sans', sans-serif" font-size="17.5" fill="#000" text-anchor="end" font-weight="normal" >0.4</text>
<text x="73.90" y="384.13" font-family="'Liberation Sans', sans-serif" font-size="17.5" fill="#000" text-anchor="end" font-weight="normal" >0.8</text>
<text x="81.70" y="472.30" font-family="'Liberation Sans', sans-serif" font-size="17.5" fill="#000" text-anchor="middle" font-weight="normal" >0</text>
<text x="143.83" y="472.30" font-family="'Liberation Sans', sans-serif" font-size="17.5" fill="#000" text-anchor="middle" font-weight="normal" >100</text>
<text x="205.96" y="472.30" font-family="'Liberation Sans', sans-serif" font-size="17.5" fill="#000" text-anchor="middle" font-weight="normal" >200</text>
<text x="268.09" y="472.30" font-family="'Liberation Sans', sans-serif" font-size="17.5" fill="#000" text-anchor="middle" font-weight="normal" >300</text>
<text x="330.21" y="472.30" font-family="'Liberation Sans', sans-serif" font-size="17.5" fill="#000" text-anchor="middle" font-weight="normal" >400</text>
<text x="392.34" y="472.30" font-family="'Liberation Sans', sans-serif" font-size="17.5" fill="#000" text-anchor="middle" font-weight="normal" >500</text>
<text x="454.47" y="472.30" font-family="'Liberation Sans', sans-serif" font-size="17.5" fill="#000" text-anchor="middle" font-weight="normal" >600</text>
<text x="516.60" y="472.30" font-family="'Liberation Sans', sans-serif" font-size="17.5" fill="#000" text-anchor="middle" font-weight="normal" >700</text>
<text x="299.20" y="495.50" font-family="'Liberation Sans', sans-serif" font-size="18" fill="#000" text-anchor="middle" font-weight="normal" >Temperature (K)</text>
<text transform="translate(35.8,234.3) rotate(-90)" font-family="'Liberation Sans', sans-serif" font-size="17.9" text-anchor="middle">Relative intensity</text>
<text x="-0.80" y="33.70" font-family="'Liberation Serif', serif" font-size="21" fill="#000" text-anchor="start" font-weight="bold" >a</text>
<text x="0.80" y="144.60" font-family="'Liberation Serif', serif" font-size="20" fill="#000" text-anchor="start" font-weight="bold" >b</text>
<text x="2.30" y="249.90" font-family="'Liberation Serif', serif" font-size="20" fill="#000" text-anchor="start" font-weight="bold" >c</text>
<text x="2.00" y="358.00" font-family="'Liberation Serif', serif" font-size="20" fill="#000" text-anchor="start" font-weight="bold" >d</text>
<text x="220.30" y="30.80" font-family="'Liberation Sans', sans-serif" font-size="10.8" fill="#ff0000" font-weight="bold"><tspan>V</tspan><tspan font-size="7.8" baseline-shift="-2.7">C</tspan><tspan font-weight="normal" font-size="11.34">(=/0)</tspan></text>
<text x="148.00" y="137.00" font-family="'Liberation Sans', sans-serif" font-size="10.8" fill="#ff00ff" font-weight="bold"><tspan>V</tspan><tspan font-size="7.8" baseline-shift="-2.7">C</tspan><tspan>V</tspan><tspan font-size="7.8" baseline-shift="-2.7">C</tspan><tspan font-weight="normal" font-size="11.66">(=/−)</tspan></text>
<text x="103.00" y="145.90" font-family="'Liberation Sans', sans-serif" font-size="10.0" fill="#808000" font-weight="bold"><tspan>Si</tspan><tspan font-size="7.2" baseline-shift="-2.5">C</tspan><tspan>V</tspan><tspan font-size="7.2" baseline-shift="-2.5">Si</tspan><tspan font-weight="normal" font-size="10.00">(−/0)</tspan></text>
<text x="86.80" y="184.20" font-family="'Liberation Sans', sans-serif" font-size="10.0" fill="#808000" font-weight="bold"><tspan>Si</tspan><tspan font-size="7.2" baseline-shift="-2.5">C</tspan><tspan>V</tspan><tspan font-size="7.2" baseline-shift="-2.5">Si</tspan><tspan font-weight="normal" font-size="10.00">(=/−)</tspan></text>
<text x="258.50" y="138.80" font-family="'Liberation Sans', sans-serif" font-size="10.8" fill="#ff00ff" font-weight="bold"><tspan>V</tspan><tspan font-size="7.8" baseline-shift="-2.7">C</tspan><tspan>V</tspan><tspan font-size="7.8" baseline-shift="-2.7">C</tspan><tspan font-weight="normal" font-size="11.66">(−/0)</tspan></text>
<text x="456.40" y="148.70" font-family="'Liberation Sans', sans-serif" font-size="10.8" fill="#1ec81e" font-weight="bold"><tspan>V</tspan><tspan font-size="7.8" baseline-shift="-2.7">Si</tspan><tspan>V</tspan><tspan font-size="7.8" baseline-shift="-2.7">C</tspan><tspan font-weight="normal" font-size="11.45">(=/0)</tspan></text>
<text x="366.50" y="299.60" font-family="'Liberation Sans', sans-serif" font-size="14.2" fill="#ff8000" font-weight="normal"><tspan>V</tspan><tspan font-size="10.2" baseline-shift="-3.5">Si</tspan><tspan>(=/−)</tspan></text>
<text x="467.00" y="258.30" font-family="'Liberation Sans', sans-serif" font-size="15.2" fill="#000" text-anchor="start" font-weight="normal" >Expt.</text>
<text x="467.00" y="281.90" font-family="'Liberation Serif', serif" font-size="16" fill="#ff0000" text-anchor="start" font-weight="normal" >300 K</text>
<text x="134.00" y="410.00" font-family="'Liberation Sans', sans-serif" font-size="14.3" fill="#0000ff" text-anchor="start" font-weight="normal" >CAV(=/−)</text>
<text x="271.60" y="372.70" font-family="'Liberation Sans', sans-serif" font-size="14.3" fill="#0000ff" text-anchor="start" font-weight="normal" >CAV(−/0)</text>
<text x="370.5" y="386.9" font-family="'Liberation Sans', sans-serif" font-size="14.3" fill="#0000ff">CAV(<tspan font-family="'Liberation Serif', serif">0/+)</tspan></text>
<text x="468.90" y="366.50" font-family="'Liberation Serif', serif" font-size="16" fill="#ff0000" text-anchor="start" font-weight="normal" >623 K</text>
<text x="582.80" y="34.80" font-family="'Liberation Serif', serif" font-size="15" fill="#ff0000" font-weight="bold" text-anchor="middle">(Δ<tspan font-style="italic">E</tspan>, σ)</text>
<text x="579.70" y="77.50" font-family="'Liberation Serif', serif" font-size="13" fill="#000" text-anchor="middle" font-weight="normal" >Z1/2 determined</text>
<text x="562.20" y="145.60" font-family="'Liberation Serif', serif" font-size="15" fill="#ff0000" font-weight="bold" text-anchor="middle">(Δ<tspan font-style="italic">E</tspan>, σ)</text>
<text x="563.10" y="177.60" font-family="'Liberation Serif', serif" font-size="13" fill="#000" text-anchor="middle" font-weight="normal" >EH6</text>
<text x="563.10" y="192.00" font-family="'Liberation Serif', serif" font-size="13" fill="#000" text-anchor="middle" font-weight="normal" >determined</text>
<text x="564.2" y="248.6" font-family="'Liberation Serif', serif" font-size="10.5" fill="#ff0000" font-weight="bold" text-anchor="middle">Room <tspan font-style="italic">T</tspan></text>
<text x="564.60" y="270.90" font-family="'Liberation Serif', serif" font-size="15" fill="#ff0000" font-weight="bold" text-anchor="middle">(Δ<tspan font-style="italic">E</tspan>, σ, <tspan font-style="italic">C</tspan>)</text>
<text x="563.40" y="296.20" font-family="'Liberation Serif', serif" font-size="13" fill="#000" text-anchor="middle" font-weight="normal" >EH1/S1,</text>
<text x="563.00" y="310.60" font-family="'Liberation Serif', serif" font-size="13" fill="#000" text-anchor="middle" font-weight="normal" >EH3/S2, EH4</text>
<text x="563.10" y="325.50" font-family="'Liberation Serif', serif" font-size="13" fill="#000" text-anchor="middle" font-weight="normal" >determined</text>
<text x="565.4" y="357.8" font-family="'Liberation Serif', serif" font-size="10.5" fill="#ff0000" font-weight="bold" text-anchor="middle">High <tspan font-style="italic">T</tspan></text>
<text x="564.60" y="378.40" font-family="'Liberation Serif', serif" font-size="15" fill="#ff0000" font-weight="bold" text-anchor="middle">(Δ<tspan font-style="italic">E</tspan>, σ, <tspan font-style="italic">C</tspan>)</text>
<text x="563.00" y="403.30" font-family="'Liberation Serif', serif" font-size="13" fill="#000" text-anchor="middle" font-weight="normal" >EH1&amp;S1,</text>
<text x="563.10" y="418.10" font-family="'Liberation Serif', serif" font-size="13" fill="#000" text-anchor="middle" font-weight="normal" >EH3&amp;S2, EH5</text>
<text x="563.10" y="433.00" font-family="'Liberation Serif', serif" font-size="13" fill="#000" text-anchor="middle" font-weight="normal" >determined</text>
<text transform="translate(654.30,70.60) rotate(90)" font-family="'Liberation Serif', serif" font-size="17.5" text-anchor="middle">Equilibrium</text>
<text transform="translate(654.00,287.60) rotate(90)" font-family="'Liberation Serif', serif" font-size="17.4" text-anchor="middle">Nonequilibrium</text>
<text transform="translate(621.80,178.00) rotate(90)" font-family="'Liberation Serif', serif" font-size="13" text-anchor="middle">Previous methods</text>
<text transform="translate(621.80,332.10) rotate(90)" font-family="'Liberation Serif', serif" font-size="13" text-anchor="middle">Our method</text>
<line x1="640.3" y1="16.3" x2="640.3" y2="450.5" stroke="#ff1a1a" stroke-width="1.1" stroke-dasharray="8.8 3.1"/>
<line x1="609.5" y1="125.4" x2="609.5" y2="450.5" stroke="#ff1a1a" stroke-width="1.1" stroke-dasharray="8.8 3.1"/>
<line x1="517" y1="232.7" x2="639" y2="232.7" stroke="#333" stroke-width="1.2" stroke-dasharray="8.3 3.6"/>
<line x1="517" y1="340.8" x2="609" y2="340.8" stroke="#333" stroke-width="1.2" stroke-dasharray="8.3 3.6"/>
<rect x="69.00" y="524.20" width="159.40" height="221.50" fill="#edf5ea"/>
<rect x="228.40" y="524.20" width="116.90" height="221.50" fill="#fdeefd"/>
<rect x="401.10" y="526.30" width="73.90" height="220.70" fill="#edf5ea"/>
<rect x="475.00" y="526.30" width="79.20" height="220.70" fill="#fdeefd"/>
<rect x="554.20" y="526.30" width="121.90" height="220.70" fill="#e4ebf9"/>
<path d="M69.00,591.60 L225.25,591.80 L236.50,591.95 L245.25,592.23 L251.00,592.76 L260.99,594.03 L273.39,596.12 L278.10,596.76 L286.55,597.52 L298.30,598.25 L304.97,598.77 L309.65,599.22 L313.35,599.72 L317.35,600.62 L324.35,602.68 L333.35,605.72 L345.30,609.60" fill="none" stroke="#555555" stroke-width="1.3" stroke-linecap="butt" stroke-linejoin="round"/>
<path d="M69.00,610.40 L218.00,610.67 L228.25,610.75 L237.50,611.13 L245.00,611.55 L251.00,612.00 L276.86,614.45 L303.85,615.90 L309.35,616.29 L313.60,616.72 L318.35,617.54 L325.60,619.21 L335.34,622.01 L345.30,625.00" fill="none" stroke="#2b6ee0" stroke-width="1.3" stroke-linecap="butt" stroke-linejoin="round"/>
<path d="M69.00,608.70 L225.50,608.90 L230.00,609.10 L236.00,609.65 L239.00,610.10 L242.00,610.75 L246.49,612.07 L247.71,612.59 L249.18,613.37 L251.38,614.76 L255.05,617.38 L258.78,620.43 L262.26,623.74 L265.18,626.81 L279.05,643.77 L281.60,646.64 L285.08,650.30 L288.81,653.90 L293.22,657.73 L297.13,660.77 L301.10,663.47 L305.35,666.06 L309.10,668.00 L314.35,670.23 L320.10,672.28 L326.05,674.03 L332.20,675.54 L337.38,676.56 L345.30,677.80" fill="none" stroke="#ee4040" stroke-width="1.3" stroke-linecap="butt" stroke-linejoin="round"/>
<path d="M69.00,628.00 L225.00,627.90 L228.25,627.97 L232.00,628.20 L236.75,628.68 L242.74,629.43 L244.70,629.77 L247.14,630.34 L253.04,632.06 L259.25,634.43 L267.50,637.35 L270.50,638.20 L275.42,639.27 L279.85,640.06 L284.28,640.70 L297.86,642.12 L308.60,643.35 L320.10,644.83 L326.35,645.74 L330.35,646.45 L333.59,647.18 L345.30,650.50" fill="none" stroke="#2ca55a" stroke-width="2.2" stroke-dasharray="5 4.5" stroke-linecap="butt" stroke-linejoin="round"/>
<path d="M69.00,722.80 L136.50,722.32 L195.50,721.73 L218.75,721.17 L222.75,720.82 L225.00,720.50 L226.23,720.23 L227.71,719.73 L229.44,718.97 L232.14,717.57 L233.60,716.67 L235.30,715.43 L237.24,713.81 L239.13,712.09 L240.86,710.31 L243.66,706.98 L246.96,702.66 L249.68,698.64 L258.98,684.36 L262.75,679.09 L266.62,674.07 L271.30,668.48 L277.19,662.09 L279.65,659.89 L283.10,657.56 L285.31,656.29 L287.52,655.17 L293.75,652.47 L297.75,651.11 L301.24,650.39 L309.21,649.30 L318.17,648.51 L327.87,647.96 L345.30,647.30" fill="none" stroke="#6a9bd3" stroke-width="1.3" stroke-linecap="butt" stroke-linejoin="round"/>
<path d="M69.00,653.90 L82.16,658.64 L97.52,663.83 L106.44,666.62 L117.53,669.68 L124.66,672.00 L127.37,673.15 L129.59,674.41 L131.56,676.00 L133.28,677.77 L134.76,679.59 L135.91,681.22 L136.95,683.05 L137.99,685.27 L139.23,688.40 L140.47,692.00 L141.47,695.21 L142.32,698.59 L143.27,703.11 L144.39,709.10 L145.93,718.87 L147.23,729.17 L148.90,745.70" fill="none" stroke="#d6a21e" stroke-width="1.4" stroke-linecap="butt" stroke-linejoin="round"/>
<path d="M330.00,745.20 L335.75,744.75 L338.49,744.43 L340.68,743.97 L345.30,742.70" fill="none" stroke="#7a4848" stroke-width="2.2" stroke-dasharray="3 3" stroke-linecap="butt" stroke-linejoin="round"/>
<path d="M401.10,593.60 L469.22,593.82 L485.13,593.97 L498.30,594.21 L503.52,594.49 L509.25,595.04 L519.70,596.40 L523.93,597.09 L530.90,598.57 L539.36,600.77 L545.57,602.61 L551.78,604.81 L557.00,606.90 L560.00,608.25 L572.75,614.86 L583.50,619.89 L589.75,622.49 L595.95,624.58 L602.88,626.49 L609.31,627.82 L632.00,631.73 L637.74,632.59 L651.42,634.34 L655.65,635.05 L659.34,635.84 L663.52,637.00 L665.25,637.59 L666.73,638.22 L669.44,639.68 L676.10,643.80" fill="none" stroke="#555555" stroke-width="1.3" stroke-linecap="butt" stroke-linejoin="round"/>
<path d="M401.10,612.30 L465.99,612.40 L487.86,612.62 L499.54,612.84 L506.76,613.10 L515.97,613.63 L522.92,614.22 L526.89,614.76 L531.10,615.48 L537.55,616.75 L540.51,617.45 L544.70,618.65 L557.60,622.64 L571.35,627.00 L581.10,630.22 L585.60,631.57 L589.35,632.53 L594.10,633.61 L609.80,636.75 L614.50,637.54 L621.00,638.19 L636.74,639.32 L649.93,640.14 L656.40,640.71 L662.88,641.72 L676.10,644.40" fill="none" stroke="#2b6ee0" stroke-width="1.3" stroke-linecap="butt" stroke-linejoin="round"/>
<path d="M401.10,610.50 L466.24,610.81 L477.69,610.99 L487.39,611.33 L489.61,611.53 L492.08,611.91 L494.55,612.43 L497.51,613.19 L503.20,614.94 L505.19,615.79 L507.18,616.81 L509.42,618.14 L512.16,619.93 L515.65,622.38 L517.63,623.93 L520.60,626.59 L527.30,633.06 L537.05,642.76 L542.25,647.64 L546.47,651.41 L551.20,655.39 L556.20,659.33 L565.15,666.11 L568.86,668.60 L572.57,670.57 L576.77,672.50 L580.48,673.94 L583.95,675.01 L587.67,675.94 L592.39,676.92 L599.85,678.33 L610.35,680.13 L613.82,680.94 L617.04,681.89 L620.25,683.11 L622.50,684.25 L625.00,685.89 L627.38,687.84 L628.88,689.44 L630.38,691.39 L631.88,693.64 L633.43,696.26 L634.49,698.40 L635.56,700.83 L638.11,707.61 L640.38,715.00 L643.16,725.66 L644.69,732.33 L647.80,747.00" fill="none" stroke="#ee4040" stroke-width="1.3" stroke-linecap="butt" stroke-linejoin="round"/>
<path d="M401.10,630.60 L468.48,630.75 L476.70,631.09 L486.90,631.80 L490.65,632.19 L494.90,632.82 L500.90,633.92 L510.38,635.84 L516.85,637.37 L526.55,639.86 L537.20,642.80 L564.06,649.66 L567.29,650.74 L573.01,653.24 L575.25,654.08 L579.23,655.30 L588.93,657.96 L600.83,661.06 L607.27,662.62 L611.47,663.50 L621.36,665.34 L629.30,667.12 L635.26,668.76 L637.50,669.52 L639.50,670.32 L642.99,672.02 L645.46,673.54 L647.26,675.01 L649.11,677.16 L650.78,679.53 L653.00,683.00 L655.75,687.65 L658.49,693.08 L660.85,698.58 L662.60,703.51 L665.63,713.10 L666.41,716.13 L667.08,719.55 L667.56,722.78 L667.85,726.12 L669.00,747.00" fill="none" stroke="#22c422" stroke-width="2.2" stroke-dasharray="5 4.5" stroke-linecap="butt" stroke-linejoin="round"/>
<path d="M401.10,656.20 L409.54,658.88 L413.26,660.25 L417.71,662.33 L421.40,664.51 L423.37,665.90 L425.09,667.28 L426.82,668.83 L428.25,670.29 L429.31,671.61 L430.37,673.18 L432.64,677.22 L434.77,681.73 L436.66,686.76 L438.71,693.58 L440.13,699.53 L441.76,707.93 L443.56,718.47 L447.50,747.00" fill="none" stroke="#d6a21e" stroke-width="1.4" stroke-linecap="butt" stroke-linejoin="round"/>
<path d="M401.10,723.20 L444.28,722.72 L465.98,722.27 L471.11,721.94 L476.22,721.42 L479.60,720.80 L481.55,720.12 L484.22,718.66 L488.12,716.02 L490.79,713.70 L494.20,710.30 L496.43,707.80 L501.30,701.74 L509.97,691.41 L512.08,688.66 L516.21,682.75 L518.00,680.50 L519.71,678.67 L521.91,676.53 L533.96,665.68 L536.68,663.48 L538.91,661.91 L542.39,659.83 L545.88,657.99 L548.86,656.60 L552.10,655.28 L557.04,653.54 L560.99,652.30 L564.45,651.39 L567.65,650.74 L573.88,649.82 L580.12,649.10 L585.11,648.67 L590.34,648.35 L609.52,647.67 L616.75,647.28 L622.50,646.67 L635.50,644.90 L640.75,644.38 L644.00,644.21 L650.22,644.09 L676.10,643.80" fill="none" stroke="#6a9bd3" stroke-width="1.3" stroke-linecap="butt" stroke-linejoin="round"/>
<path d="M555.80,747.00 L560.05,727.76 L563.08,713.08 L565.47,704.19 L567.53,697.58 L568.60,694.71 L569.59,692.49 L571.20,689.60 L572.80,687.04 L574.40,684.79 L576.00,682.92 L577.40,681.63 L578.80,680.70 L582.25,679.03 L585.71,677.69 L589.16,676.70 L592.62,676.06 L600.10,675.43 L608.85,674.92 L616.85,674.66 L624.84,674.61 L633.04,674.72 L641.48,674.98 L651.18,675.45 L657.15,675.87 L659.89,676.34 L663.13,677.14 L672.86,680.25 L676.10,681.20" fill="none" stroke="#b77ae6" stroke-width="2.2" stroke-dasharray="5 4.5" stroke-linecap="butt" stroke-linejoin="round"/>
<path d="M540.00,746.30 L575.07,743.56 L597.71,742.25 L601.69,741.90 L604.90,741.49 L608.86,740.82 L613.31,739.91 L616.04,739.25 L619.03,738.39 L623.51,736.85 L628.74,734.80 L631.47,733.62 L633.71,732.43 L636.07,730.81 L636.98,729.95 L638.08,728.69 L639.37,726.96 L640.65,725.01 L642.41,722.12 L643.36,720.34 L645.60,715.36 L649.07,706.55 L652.82,695.60 L654.13,692.12 L656.67,686.45 L659.17,681.73 L662.25,677.01 L663.76,675.00 L665.27,673.20 L667.63,670.86 L671.80,667.60" fill="none" stroke="#7a4848" stroke-width="2.2" stroke-dasharray="4 4" stroke-linecap="butt" stroke-linejoin="round"/>
<rect x="69.00" y="524.20" width="276.30" height="221.50" fill="none" stroke="#333" stroke-width="1.5"/>
<g stroke="#111" stroke-width="1.1"><line x1="69.00" y1="745.70" x2="69.00" y2="741.90"/><line x1="73.62" y1="745.70" x2="73.62" y2="743.50"/><line x1="76.32" y1="745.70" x2="76.32" y2="743.50"/><line x1="78.24" y1="745.70" x2="78.24" y2="743.50"/><line x1="79.73" y1="745.70" x2="79.73" y2="743.50"/><line x1="80.94" y1="745.70" x2="80.94" y2="743.50"/><line x1="81.97" y1="745.70" x2="81.97" y2="743.50"/><line x1="82.86" y1="745.70" x2="82.86" y2="743.50"/><line x1="83.65" y1="745.70" x2="83.65" y2="743.50"/><line x1="84.35" y1="745.70" x2="84.35" y2="741.90"/><line x1="88.97" y1="745.70" x2="88.97" y2="743.50"/><line x1="91.67" y1="745.70" x2="91.67" y2="743.50"/><line x1="93.59" y1="745.70" x2="93.59" y2="743.50"/><line x1="95.08" y1="745.70" x2="95.08" y2="743.50"/><line x1="96.29" y1="745.70" x2="96.29" y2="743.50"/><line x1="97.32" y1="745.70" x2="97.32" y2="743.50"/><line x1="98.21" y1="745.70" x2="98.21" y2="743.50"/><line x1="99.00" y1="745.70" x2="99.00" y2="743.50"/><line x1="99.70" y1="745.70" x2="99.70" y2="741.90"/><line x1="104.32" y1="745.70" x2="104.32" y2="743.50"/><line x1="107.02" y1="745.70" x2="107.02" y2="743.50"/><line x1="108.94" y1="745.70" x2="108.94" y2="743.50"/><line x1="110.43" y1="745.70" x2="110.43" y2="743.50"/><line x1="111.64" y1="745.70" x2="111.64" y2="743.50"/><line x1="112.67" y1="745.70" x2="112.67" y2="743.50"/><line x1="113.56" y1="745.70" x2="113.56" y2="743.50"/><line x1="114.35" y1="745.70" x2="114.35" y2="743.50"/><line x1="115.05" y1="745.70" x2="115.05" y2="741.90"/><line x1="119.67" y1="745.70" x2="119.67" y2="743.50"/><line x1="122.37" y1="745.70" x2="122.37" y2="743.50"/><line x1="124.29" y1="745.70" x2="124.29" y2="743.50"/><line x1="125.78" y1="745.70" x2="125.78" y2="743.50"/><line x1="126.99" y1="745.70" x2="126.99" y2="743.50"/><line x1="128.02" y1="745.70" x2="128.02" y2="743.50"/><line x1="128.91" y1="745.70" x2="128.91" y2="743.50"/><line x1="129.70" y1="745.70" x2="129.70" y2="743.50"/><line x1="130.40" y1="745.70" x2="130.40" y2="741.90"/><line x1="135.02" y1="745.70" x2="135.02" y2="743.50"/><line x1="137.72" y1="745.70" x2="137.72" y2="743.50"/><line x1="139.64" y1="745.70" x2="139.64" y2="743.50"/><line x1="141.13" y1="745.70" x2="141.13" y2="743.50"/><line x1="142.34" y1="745.70" x2="142.34" y2="743.50"/><line x1="143.37" y1="745.70" x2="143.37" y2="743.50"/><line x1="144.26" y1="745.70" x2="144.26" y2="743.50"/><line x1="145.05" y1="745.70" x2="145.05" y2="743.50"/><line x1="145.75" y1="745.70" x2="145.75" y2="741.90"/><line x1="150.37" y1="745.70" x2="150.37" y2="743.50"/><line x1="153.07" y1="745.70" x2="153.07" y2="743.50"/><line x1="154.99" y1="745.70" x2="154.99" y2="743.50"/><line x1="156.48" y1="745.70" x2="156.48" y2="743.50"/><line x1="157.69" y1="745.70" x2="157.69" y2="743.50"/><line x1="158.72" y1="745.70" x2="158.72" y2="743.50"/><line x1="159.61" y1="745.70" x2="159.61" y2="743.50"/><line x1="160.40" y1="745.70" x2="160.40" y2="743.50"/><line x1="161.10" y1="745.70" x2="161.10" y2="741.90"/><line x1="165.72" y1="745.70" x2="165.72" y2="743.50"/><line x1="168.42" y1="745.70" x2="168.42" y2="743.50"/><line x1="170.34" y1="745.70" x2="170.34" y2="743.50"/><line x1="171.83" y1="745.70" x2="171.83" y2="743.50"/><line x1="173.04" y1="745.70" x2="173.04" y2="743.50"/><line x1="174.07" y1="745.70" x2="174.07" y2="743.50"/><line x1="174.96" y1="745.70" x2="174.96" y2="743.50"/><line x1="175.75" y1="745.70" x2="175.75" y2="743.50"/><line x1="176.45" y1="745.70" x2="176.45" y2="741.90"/><line x1="181.07" y1="745.70" x2="181.07" y2="743.50"/><line x1="183.77" y1="745.70" x2="183.77" y2="743.50"/><line x1="185.69" y1="745.70" x2="185.69" y2="743.50"/><line x1="187.18" y1="745.70" x2="187.18" y2="743.50"/><line x1="188.39" y1="745.70" x2="188.39" y2="743.50"/><line x1="189.42" y1="745.70" x2="189.42" y2="743.50"/><line x1="190.31" y1="745.70" x2="190.31" y2="743.50"/><line x1="191.10" y1="745.70" x2="191.10" y2="743.50"/><line x1="191.80" y1="745.70" x2="191.80" y2="741.90"/><line x1="196.42" y1="745.70" x2="196.42" y2="743.50"/><line x1="199.12" y1="745.70" x2="199.12" y2="743.50"/><line x1="201.04" y1="745.70" x2="201.04" y2="743.50"/><line x1="202.53" y1="745.70" x2="202.53" y2="743.50"/><line x1="203.74" y1="745.70" x2="203.74" y2="743.50"/><line x1="204.77" y1="745.70" x2="204.77" y2="743.50"/><line x1="205.66" y1="745.70" x2="205.66" y2="743.50"/><line x1="206.45" y1="745.70" x2="206.45" y2="743.50"/><line x1="207.15" y1="745.70" x2="207.15" y2="741.90"/><line x1="211.77" y1="745.70" x2="211.77" y2="743.50"/><line x1="214.47" y1="745.70" x2="214.47" y2="743.50"/><line x1="216.39" y1="745.70" x2="216.39" y2="743.50"/><line x1="217.88" y1="745.70" x2="217.88" y2="743.50"/><line x1="219.09" y1="745.70" x2="219.09" y2="743.50"/><line x1="220.12" y1="745.70" x2="220.12" y2="743.50"/><line x1="221.01" y1="745.70" x2="221.01" y2="743.50"/><line x1="221.80" y1="745.70" x2="221.80" y2="743.50"/><line x1="222.50" y1="745.70" x2="222.50" y2="741.90"/><line x1="227.12" y1="745.70" x2="227.12" y2="743.50"/><line x1="229.82" y1="745.70" x2="229.82" y2="743.50"/><line x1="231.74" y1="745.70" x2="231.74" y2="743.50"/><line x1="233.23" y1="745.70" x2="233.23" y2="743.50"/><line x1="234.44" y1="745.70" x2="234.44" y2="743.50"/><line x1="235.47" y1="745.70" x2="235.47" y2="743.50"/><line x1="236.36" y1="745.70" x2="236.36" y2="743.50"/><line x1="237.15" y1="745.70" x2="237.15" y2="743.50"/><line x1="237.85" y1="745.70" x2="237.85" y2="741.90"/><line x1="242.47" y1="745.70" x2="242.47" y2="743.50"/><line x1="245.17" y1="745.70" x2="245.17" y2="743.50"/><line x1="247.09" y1="745.70" x2="247.09" y2="743.50"/><line x1="248.58" y1="745.70" x2="248.58" y2="743.50"/><line x1="249.79" y1="745.70" x2="249.79" y2="743.50"/><line x1="250.82" y1="745.70" x2="250.82" y2="743.50"/><line x1="251.71" y1="745.70" x2="251.71" y2="743.50"/><line x1="252.50" y1="745.70" x2="252.50" y2="743.50"/><line x1="253.20" y1="745.70" x2="253.20" y2="741.90"/><line x1="257.82" y1="745.70" x2="257.82" y2="743.50"/><line x1="260.52" y1="745.70" x2="260.52" y2="743.50"/><line x1="262.44" y1="745.70" x2="262.44" y2="743.50"/><line x1="263.93" y1="745.70" x2="263.93" y2="743.50"/><line x1="265.14" y1="745.70" x2="265.14" y2="743.50"/><line x1="266.17" y1="745.70" x2="266.17" y2="743.50"/><line x1="267.06" y1="745.70" x2="267.06" y2="743.50"/><line x1="267.85" y1="745.70" x2="267.85" y2="743.50"/><line x1="268.55" y1="745.70" x2="268.55" y2="741.90"/><line x1="273.17" y1="745.70" x2="273.17" y2="743.50"/><line x1="275.87" y1="745.70" x2="275.87" y2="743.50"/><line x1="277.79" y1="745.70" x2="277.79" y2="743.50"/><line x1="279.28" y1="745.70" x2="279.28" y2="743.50"/><line x1="280.49" y1="745.70" x2="280.49" y2="743.50"/><line x1="281.52" y1="745.70" x2="281.52" y2="743.50"/><line x1="282.41" y1="745.70" x2="282.41" y2="743.50"/><line x1="283.20" y1="745.70" x2="283.20" y2="743.50"/><line x1="283.90" y1="745.70" x2="283.90" y2="741.90"/><line x1="288.52" y1="745.70" x2="288.52" y2="743.50"/><line x1="291.22" y1="745.70" x2="291.22" y2="743.50"/><line x1="293.14" y1="745.70" x2="293.14" y2="743.50"/><line x1="294.63" y1="745.70" x2="294.63" y2="743.50"/><line x1="295.84" y1="745.70" x2="295.84" y2="743.50"/><line x1="296.87" y1="745.70" x2="296.87" y2="743.50"/><line x1="297.76" y1="745.70" x2="297.76" y2="743.50"/><line x1="298.55" y1="745.70" x2="298.55" y2="743.50"/><line x1="299.25" y1="745.70" x2="299.25" y2="741.90"/><line x1="303.87" y1="745.70" x2="303.87" y2="743.50"/><line x1="306.57" y1="745.70" x2="306.57" y2="743.50"/><line x1="308.49" y1="745.70" x2="308.49" y2="743.50"/><line x1="309.98" y1="745.70" x2="309.98" y2="743.50"/><line x1="311.19" y1="745.70" x2="311.19" y2="743.50"/><line x1="312.22" y1="745.70" x2="312.22" y2="743.50"/><line x1="313.11" y1="745.70" x2="313.11" y2="743.50"/><line x1="313.90" y1="745.70" x2="313.90" y2="743.50"/><line x1="314.60" y1="745.70" x2="314.60" y2="741.90"/><line x1="319.22" y1="745.70" x2="319.22" y2="743.50"/><line x1="321.92" y1="745.70" x2="321.92" y2="743.50"/><line x1="323.84" y1="745.70" x2="323.84" y2="743.50"/><line x1="325.33" y1="745.70" x2="325.33" y2="743.50"/><line x1="326.54" y1="745.70" x2="326.54" y2="743.50"/><line x1="327.57" y1="745.70" x2="327.57" y2="743.50"/><line x1="328.46" y1="745.70" x2="328.46" y2="743.50"/><line x1="329.25" y1="745.70" x2="329.25" y2="743.50"/><line x1="329.95" y1="745.70" x2="329.95" y2="741.90"/><line x1="334.57" y1="745.70" x2="334.57" y2="743.50"/><line x1="337.27" y1="745.70" x2="337.27" y2="743.50"/><line x1="339.19" y1="745.70" x2="339.19" y2="743.50"/><line x1="340.68" y1="745.70" x2="340.68" y2="743.50"/><line x1="341.89" y1="745.70" x2="341.89" y2="743.50"/><line x1="342.92" y1="745.70" x2="342.92" y2="743.50"/><line x1="343.81" y1="745.70" x2="343.81" y2="743.50"/><line x1="344.60" y1="745.70" x2="344.60" y2="743.50"/><line x1="345.30" y1="745.70" x2="345.30" y2="741.90"/><line x1="69.00" y1="724.11" x2="71.20" y2="724.11"/><line x1="69.00" y1="711.07" x2="71.20" y2="711.07"/><line x1="69.00" y1="701.82" x2="71.20" y2="701.82"/><line x1="69.00" y1="694.64" x2="71.20" y2="694.64"/><line x1="69.00" y1="688.77" x2="71.20" y2="688.77"/><line x1="69.00" y1="683.81" x2="71.20" y2="683.81"/><line x1="69.00" y1="679.52" x2="71.20" y2="679.52"/><line x1="69.00" y1="675.73" x2="71.20" y2="675.73"/><line x1="69.00" y1="672.34" x2="73.00" y2="672.34"/><line x1="69.00" y1="650.04" x2="71.20" y2="650.04"/><line x1="69.00" y1="637.00" x2="71.20" y2="637.00"/><line x1="69.00" y1="627.75" x2="71.20" y2="627.75"/><line x1="69.00" y1="620.57" x2="71.20" y2="620.57"/><line x1="69.00" y1="614.70" x2="71.20" y2="614.70"/><line x1="69.00" y1="609.74" x2="71.20" y2="609.74"/><line x1="69.00" y1="605.45" x2="71.20" y2="605.45"/><line x1="69.00" y1="601.66" x2="71.20" y2="601.66"/><line x1="69.00" y1="598.27" x2="73.00" y2="598.27"/><line x1="69.00" y1="575.97" x2="71.20" y2="575.97"/><line x1="69.00" y1="562.93" x2="71.20" y2="562.93"/><line x1="69.00" y1="553.68" x2="71.20" y2="553.68"/><line x1="69.00" y1="546.50" x2="71.20" y2="546.50"/><line x1="69.00" y1="540.63" x2="71.20" y2="540.63"/><line x1="69.00" y1="535.67" x2="71.20" y2="535.67"/><line x1="69.00" y1="531.38" x2="71.20" y2="531.38"/><line x1="69.00" y1="527.59" x2="71.20" y2="527.59"/></g>
<rect x="401.10" y="526.30" width="275.00" height="220.70" fill="none" stroke="#333" stroke-width="1.5"/>
<g stroke="#111" stroke-width="1.1"><line x1="401.10" y1="747.00" x2="401.10" y2="743.20"/><line x1="406.62" y1="747.00" x2="406.62" y2="744.80"/><line x1="409.85" y1="747.00" x2="409.85" y2="744.80"/><line x1="412.14" y1="747.00" x2="412.14" y2="744.80"/><line x1="413.91" y1="747.00" x2="413.91" y2="744.80"/><line x1="415.37" y1="747.00" x2="415.37" y2="744.80"/><line x1="416.59" y1="747.00" x2="416.59" y2="744.80"/><line x1="417.66" y1="747.00" x2="417.66" y2="744.80"/><line x1="418.59" y1="747.00" x2="418.59" y2="744.80"/><line x1="419.43" y1="747.00" x2="419.43" y2="743.20"/><line x1="424.95" y1="747.00" x2="424.95" y2="744.80"/><line x1="428.18" y1="747.00" x2="428.18" y2="744.80"/><line x1="430.47" y1="747.00" x2="430.47" y2="744.80"/><line x1="432.25" y1="747.00" x2="432.25" y2="744.80"/><line x1="433.70" y1="747.00" x2="433.70" y2="744.80"/><line x1="434.93" y1="747.00" x2="434.93" y2="744.80"/><line x1="435.99" y1="747.00" x2="435.99" y2="744.80"/><line x1="436.93" y1="747.00" x2="436.93" y2="744.80"/><line x1="437.77" y1="747.00" x2="437.77" y2="743.20"/><line x1="443.29" y1="747.00" x2="443.29" y2="744.80"/><line x1="446.51" y1="747.00" x2="446.51" y2="744.80"/><line x1="448.80" y1="747.00" x2="448.80" y2="744.80"/><line x1="450.58" y1="747.00" x2="450.58" y2="744.80"/><line x1="452.03" y1="747.00" x2="452.03" y2="744.80"/><line x1="453.26" y1="747.00" x2="453.26" y2="744.80"/><line x1="454.32" y1="747.00" x2="454.32" y2="744.80"/><line x1="455.26" y1="747.00" x2="455.26" y2="744.80"/><line x1="456.10" y1="747.00" x2="456.10" y2="743.20"/><line x1="461.62" y1="747.00" x2="461.62" y2="744.80"/><line x1="464.85" y1="747.00" x2="464.85" y2="744.80"/><line x1="467.14" y1="747.00" x2="467.14" y2="744.80"/><line x1="468.91" y1="747.00" x2="468.91" y2="744.80"/><line x1="470.37" y1="747.00" x2="470.37" y2="744.80"/><line x1="471.59" y1="747.00" x2="471.59" y2="744.80"/><line x1="472.66" y1="747.00" x2="472.66" y2="744.80"/><line x1="473.59" y1="747.00" x2="473.59" y2="744.80"/><line x1="474.43" y1="747.00" x2="474.43" y2="743.20"/><line x1="479.95" y1="747.00" x2="479.95" y2="744.80"/><line x1="483.18" y1="747.00" x2="483.18" y2="744.80"/><line x1="485.47" y1="747.00" x2="485.47" y2="744.80"/><line x1="487.25" y1="747.00" x2="487.25" y2="744.80"/><line x1="488.70" y1="747.00" x2="488.70" y2="744.80"/><line x1="489.93" y1="747.00" x2="489.93" y2="744.80"/><line x1="490.99" y1="747.00" x2="490.99" y2="744.80"/><line x1="491.93" y1="747.00" x2="491.93" y2="744.80"/><line x1="492.77" y1="747.00" x2="492.77" y2="743.20"/><line x1="498.29" y1="747.00" x2="498.29" y2="744.80"/><line x1="501.51" y1="747.00" x2="501.51" y2="744.80"/><line x1="503.80" y1="747.00" x2="503.80" y2="744.80"/><line x1="505.58" y1="747.00" x2="505.58" y2="744.80"/><line x1="507.03" y1="747.00" x2="507.03" y2="744.80"/><line x1="508.26" y1="747.00" x2="508.26" y2="744.80"/><line x1="509.32" y1="747.00" x2="509.32" y2="744.80"/><line x1="510.26" y1="747.00" x2="510.26" y2="744.80"/><line x1="511.10" y1="747.00" x2="511.10" y2="743.20"/><line x1="516.62" y1="747.00" x2="516.62" y2="744.80"/><line x1="519.85" y1="747.00" x2="519.85" y2="744.80"/><line x1="522.14" y1="747.00" x2="522.14" y2="744.80"/><line x1="523.91" y1="747.00" x2="523.91" y2="744.80"/><line x1="525.37" y1="747.00" x2="525.37" y2="744.80"/><line x1="526.59" y1="747.00" x2="526.59" y2="744.80"/><line x1="527.66" y1="747.00" x2="527.66" y2="744.80"/><line x1="528.59" y1="747.00" x2="528.59" y2="744.80"/><line x1="529.43" y1="747.00" x2="529.43" y2="743.20"/><line x1="534.95" y1="747.00" x2="534.95" y2="744.80"/><line x1="538.18" y1="747.00" x2="538.18" y2="744.80"/><line x1="540.47" y1="747.00" x2="540.47" y2="744.80"/><line x1="542.25" y1="747.00" x2="542.25" y2="744.80"/><line x1="543.70" y1="747.00" x2="543.70" y2="744.80"/><line x1="544.93" y1="747.00" x2="544.93" y2="744.80"/><line x1="545.99" y1="747.00" x2="545.99" y2="744.80"/><line x1="546.93" y1="747.00" x2="546.93" y2="744.80"/><line x1="547.77" y1="747.00" x2="547.77" y2="743.20"/><line x1="553.29" y1="747.00" x2="553.29" y2="744.80"/><line x1="556.51" y1="747.00" x2="556.51" y2="744.80"/><line x1="558.80" y1="747.00" x2="558.80" y2="744.80"/><line x1="560.58" y1="747.00" x2="560.58" y2="744.80"/><line x1="562.03" y1="747.00" x2="562.03" y2="744.80"/><line x1="563.26" y1="747.00" x2="563.26" y2="744.80"/><line x1="564.32" y1="747.00" x2="564.32" y2="744.80"/><line x1="565.26" y1="747.00" x2="565.26" y2="744.80"/><line x1="566.10" y1="747.00" x2="566.10" y2="743.20"/><line x1="571.62" y1="747.00" x2="571.62" y2="744.80"/><line x1="574.85" y1="747.00" x2="574.85" y2="744.80"/><line x1="577.14" y1="747.00" x2="577.14" y2="744.80"/><line x1="578.91" y1="747.00" x2="578.91" y2="744.80"/><line x1="580.37" y1="747.00" x2="580.37" y2="744.80"/><line x1="581.59" y1="747.00" x2="581.59" y2="744.80"/><line x1="582.66" y1="747.00" x2="582.66" y2="744.80"/><line x1="583.59" y1="747.00" x2="583.59" y2="744.80"/><line x1="584.43" y1="747.00" x2="584.43" y2="743.20"/><line x1="589.95" y1="747.00" x2="589.95" y2="744.80"/><line x1="593.18" y1="747.00" x2="593.18" y2="744.80"/><line x1="595.47" y1="747.00" x2="595.47" y2="744.80"/><line x1="597.25" y1="747.00" x2="597.25" y2="744.80"/><line x1="598.70" y1="747.00" x2="598.70" y2="744.80"/><line x1="599.93" y1="747.00" x2="599.93" y2="744.80"/><line x1="600.99" y1="747.00" x2="600.99" y2="744.80"/><line x1="601.93" y1="747.00" x2="601.93" y2="744.80"/><line x1="602.77" y1="747.00" x2="602.77" y2="743.20"/><line x1="608.29" y1="747.00" x2="608.29" y2="744.80"/><line x1="611.51" y1="747.00" x2="611.51" y2="744.80"/><line x1="613.80" y1="747.00" x2="613.80" y2="744.80"/><line x1="615.58" y1="747.00" x2="615.58" y2="744.80"/><line x1="617.03" y1="747.00" x2="617.03" y2="744.80"/><line x1="618.26" y1="747.00" x2="618.26" y2="744.80"/><line x1="619.32" y1="747.00" x2="619.32" y2="744.80"/><line x1="620.26" y1="747.00" x2="620.26" y2="744.80"/><line x1="621.10" y1="747.00" x2="621.10" y2="743.20"/><line x1="626.62" y1="747.00" x2="626.62" y2="744.80"/><line x1="629.85" y1="747.00" x2="629.85" y2="744.80"/><line x1="632.14" y1="747.00" x2="632.14" y2="744.80"/><line x1="633.91" y1="747.00" x2="633.91" y2="744.80"/><line x1="635.37" y1="747.00" x2="635.37" y2="744.80"/><line x1="636.59" y1="747.00" x2="636.59" y2="744.80"/><line x1="637.66" y1="747.00" x2="637.66" y2="744.80"/><line x1="638.59" y1="747.00" x2="638.59" y2="744.80"/><line x1="639.43" y1="747.00" x2="639.43" y2="743.20"/><line x1="644.95" y1="747.00" x2="644.95" y2="744.80"/><line x1="648.18" y1="747.00" x2="648.18" y2="744.80"/><line x1="650.47" y1="747.00" x2="650.47" y2="744.80"/><line x1="652.25" y1="747.00" x2="652.25" y2="744.80"/><line x1="653.70" y1="747.00" x2="653.70" y2="744.80"/><line x1="654.93" y1="747.00" x2="654.93" y2="744.80"/><line x1="655.99" y1="747.00" x2="655.99" y2="744.80"/><line x1="656.93" y1="747.00" x2="656.93" y2="744.80"/><line x1="657.77" y1="747.00" x2="657.77" y2="743.20"/><line x1="663.29" y1="747.00" x2="663.29" y2="744.80"/><line x1="666.51" y1="747.00" x2="666.51" y2="744.80"/><line x1="668.80" y1="747.00" x2="668.80" y2="744.80"/><line x1="670.58" y1="747.00" x2="670.58" y2="744.80"/><line x1="672.03" y1="747.00" x2="672.03" y2="744.80"/><line x1="673.26" y1="747.00" x2="673.26" y2="744.80"/><line x1="674.32" y1="747.00" x2="674.32" y2="744.80"/><line x1="675.26" y1="747.00" x2="675.26" y2="744.80"/><line x1="676.10" y1="747.00" x2="676.10" y2="743.20"/><line x1="401.10" y1="724.84" x2="403.30" y2="724.84"/><line x1="401.10" y1="711.91" x2="403.30" y2="711.91"/><line x1="401.10" y1="702.73" x2="403.30" y2="702.73"/><line x1="401.10" y1="695.61" x2="403.30" y2="695.61"/><line x1="401.10" y1="689.79" x2="403.30" y2="689.79"/><line x1="401.10" y1="684.88" x2="403.30" y2="684.88"/><line x1="401.10" y1="680.62" x2="403.30" y2="680.62"/><line x1="401.10" y1="676.86" x2="403.30" y2="676.86"/><line x1="401.10" y1="673.50" x2="405.10" y2="673.50"/><line x1="401.10" y1="651.39" x2="403.30" y2="651.39"/><line x1="401.10" y1="638.46" x2="403.30" y2="638.46"/><line x1="401.10" y1="629.28" x2="403.30" y2="629.28"/><line x1="401.10" y1="622.16" x2="403.30" y2="622.16"/><line x1="401.10" y1="616.34" x2="403.30" y2="616.34"/><line x1="401.10" y1="611.43" x2="403.30" y2="611.43"/><line x1="401.10" y1="607.17" x2="403.30" y2="607.17"/><line x1="401.10" y1="603.41" x2="403.30" y2="603.41"/><line x1="401.10" y1="600.05" x2="405.10" y2="600.05"/><line x1="401.10" y1="577.94" x2="403.30" y2="577.94"/><line x1="401.10" y1="565.01" x2="403.30" y2="565.01"/><line x1="401.10" y1="555.83" x2="403.30" y2="555.83"/><line x1="401.10" y1="548.71" x2="403.30" y2="548.71"/><line x1="401.10" y1="542.89" x2="403.30" y2="542.89"/><line x1="401.10" y1="537.98" x2="403.30" y2="537.98"/><line x1="401.10" y1="533.72" x2="403.30" y2="533.72"/><line x1="401.10" y1="529.96" x2="403.30" y2="529.96"/></g>
<text x="64.30" y="750.41" font-family="'Liberation Sans', sans-serif" font-size="12.2" fill="#000" text-anchor="end" font-weight="normal" >1</text>
<text x="64.30" y="676.34" font-family="'Liberation Sans', sans-serif" font-size="12.2" fill="#000" text-anchor="end" font-weight="normal" >10</text>
<text x="64.30" y="602.27" font-family="'Liberation Sans', sans-serif" font-size="12.2" fill="#000" text-anchor="end" font-weight="normal" >100</text>
<text x="64.30" y="528.20" font-family="'Liberation Sans', sans-serif" font-size="12.2" fill="#000" text-anchor="end" font-weight="normal" >1000</text>
<text x="395.60" y="750.85" font-family="'Liberation Sans', sans-serif" font-size="12.2" fill="#000" text-anchor="end" font-weight="normal" >1</text>
<text x="395.60" y="677.40" font-family="'Liberation Sans', sans-serif" font-size="12.2" fill="#000" text-anchor="end" font-weight="normal" >10</text>
<text x="395.60" y="603.95" font-family="'Liberation Sans', sans-serif" font-size="12.2" fill="#000" text-anchor="end" font-weight="normal" >100</text>
<text x="395.60" y="530.50" font-family="'Liberation Sans', sans-serif" font-size="12.2" fill="#000" text-anchor="end" font-weight="normal" >1000</text>
<text x="69.00" y="763.00" font-family="'Liberation Sans', sans-serif" font-size="12.2" text-anchor="middle">10<tspan font-size="8.8" dy="-5.2">-11</tspan></text>
<text x="115.05" y="763.00" font-family="'Liberation Sans', sans-serif" font-size="12.2" text-anchor="middle">10<tspan font-size="8.8" dy="-5.2">-8</tspan></text>
<text x="161.10" y="763.00" font-family="'Liberation Sans', sans-serif" font-size="12.2" text-anchor="middle">10<tspan font-size="8.8" dy="-5.2">-5</tspan></text>
<text x="207.15" y="763.00" font-family="'Liberation Sans', sans-serif" font-size="12.2" text-anchor="middle">10<tspan font-size="8.8" dy="-5.2">-2</tspan></text>
<text x="253.20" y="763.00" font-family="'Liberation Sans', sans-serif" font-size="12.2" text-anchor="middle">10<tspan font-size="8.8" dy="-5.2">1</tspan></text>
<text x="299.25" y="763.00" font-family="'Liberation Sans', sans-serif" font-size="12.2" text-anchor="middle">10<tspan font-size="8.8" dy="-5.2">4</tspan></text>
<text x="345.30" y="763.00" font-family="'Liberation Sans', sans-serif" font-size="12.2" text-anchor="middle">10<tspan font-size="8.8" dy="-5.2">7</tspan></text>
<text x="401.10" y="763.80" font-family="'Liberation Sans', sans-serif" font-size="12.2" text-anchor="middle">10<tspan font-size="8.8" dy="-5.2">-12</tspan></text>
<text x="456.10" y="763.80" font-family="'Liberation Sans', sans-serif" font-size="12.2" text-anchor="middle">10<tspan font-size="8.8" dy="-5.2">-9</tspan></text>
<text x="511.10" y="763.80" font-family="'Liberation Sans', sans-serif" font-size="12.2" text-anchor="middle">10<tspan font-size="8.8" dy="-5.2">-6</tspan></text>
<text x="566.10" y="763.80" font-family="'Liberation Sans', sans-serif" font-size="12.2" text-anchor="middle">10<tspan font-size="8.8" dy="-5.2">-3</tspan></text>
<text x="621.10" y="763.80" font-family="'Liberation Sans', sans-serif" font-size="12.2" text-anchor="middle">10<tspan font-size="8.8" dy="-5.2">0</tspan></text>
<text x="676.10" y="763.80" font-family="'Liberation Sans', sans-serif" font-size="12.2" text-anchor="middle">10<tspan font-size="8.8" dy="-5.2">3</tspan></text>
<text x="207.30" y="783.00" font-family="'Liberation Sans', sans-serif" font-size="13.9" fill="#000" text-anchor="middle" font-weight="normal" >Time (s)</text>
<text x="538.60" y="783.80" font-family="'Liberation Sans', sans-serif" font-size="13.9" fill="#000" text-anchor="middle" font-weight="normal" >Time (s)</text>
<text transform="translate(31.2,635.1) rotate(-90)" font-family="'Liberation Sans', sans-serif" font-size="13.75" text-anchor="middle">Number per cascade</text>
<text transform="translate(363.3,636.8) rotate(-90)" font-family="'Liberation Sans', sans-serif" font-size="13.75" text-anchor="middle">Number per cascade</text>
<text x="59.00" y="509.40" font-family="'Liberation Serif', serif" font-size="20.5" fill="#000" text-anchor="start" font-weight="bold" >e</text>
<text x="393.60" y="508.90" font-family="'Liberation Serif', serif" font-size="19.5" fill="#000" text-anchor="start" font-weight="bold" >f</text>
<text x="170.30" y="582.00" font-family="'Liberation Serif', serif" font-size="13" fill="#ff0000" text-anchor="middle" font-weight="normal" >I</text>
<text x="280.50" y="582.00" font-family="'Liberation Serif', serif" font-size="13" fill="#ff0000" text-anchor="middle" font-weight="normal" >II</text>
<text x="437.00" y="586.30" font-family="'Liberation Serif', serif" font-size="13" fill="#ff0000" text-anchor="middle" font-weight="normal" >I</text>
<text x="516.20" y="586.30" font-family="'Liberation Serif', serif" font-size="13" fill="#ff0000" text-anchor="middle" font-weight="normal" >II</text>
<text x="614.90" y="615.60" font-family="'Liberation Serif', serif" font-size="13" fill="#ff0000" text-anchor="middle" font-weight="normal" >III</text>
<text x="115.00" y="645.60" font-family="'Liberation Sans', sans-serif" font-size="12.6" fill="#000" text-anchor="start" font-weight="normal" >300 K annealing</text>
<text x="571.60" y="580.80" font-family="'Liberation Sans', sans-serif" font-size="12.6" fill="#000" text-anchor="start" font-weight="normal" >623 K annealing</text>
<line x1="102.00" y1="539.20" x2="124.40" y2="539.20" stroke="#555555" stroke-width="1.3"/>
<text x="128.00" y="543.20" font-family="'Liberation Sans', sans-serif" font-size="11.0"><tspan>C</tspan><tspan font-size="7.7" baseline-shift="-3.3">I</tspan></text>
<line x1="143.70" y1="539.20" x2="166.00" y2="539.20" stroke="#ee4040" stroke-width="1.3"/>
<text x="169.50" y="543.20" font-family="'Liberation Sans', sans-serif" font-size="11.0"><tspan>Si</tspan><tspan font-size="7.7" baseline-shift="-3.3">I</tspan></text>
<line x1="187.00" y1="539.20" x2="209.70" y2="539.20" stroke="#2b6ee0" stroke-width="1.3"/>
<text x="212.60" y="543.20" font-family="'Liberation Sans', sans-serif" font-size="11.0"><tspan>V</tspan><tspan font-size="7.7" baseline-shift="-3.3">C</tspan></text>
<line x1="231.30" y1="539.20" x2="254.00" y2="539.20" stroke="#2ca55a" stroke-width="2.2" stroke-dasharray="4.3 4.5"/>
<text x="256.70" y="543.20" font-family="'Liberation Sans', sans-serif" font-size="11.0"><tspan>V</tspan><tspan font-size="7.7" baseline-shift="-3.3">Si</tspan></text>
<line x1="276.80" y1="539.20" x2="299.60" y2="539.20" stroke="#b77ae6" stroke-width="2.2" stroke-dasharray="4.3 4.5"/>
<text x="302.20" y="543.20" font-family="'Liberation Sans', sans-serif" font-size="11.0"><tspan>C</tspan><tspan font-size="7.7" baseline-shift="-3.3">Si</tspan></text>
<line x1="102.00" y1="555.10" x2="124.40" y2="555.10" stroke="#d6a21e" stroke-width="1.3"/>
<text x="128.00" y="559.10" font-family="'Liberation Sans', sans-serif" font-size="11.0"><tspan>C</tspan><tspan font-size="7.7" baseline-shift="-3.3">I</tspan><tspan>V</tspan><tspan font-size="7.7" baseline-shift="-3.3">C</tspan></text>
<line x1="156.30" y1="555.10" x2="179.10" y2="555.10" stroke="#7a4848" stroke-width="2.2" stroke-dasharray="4.3 4.5"/>
<text x="182.60" y="559.10" font-family="'Liberation Sans', sans-serif" font-size="11.0"><tspan>CAV</tspan></text>
<line x1="211.10" y1="555.10" x2="233.00" y2="555.10" stroke="#6a9bd3" stroke-width="1.3"/>
<text x="236.50" y="559.10" font-family="'Liberation Sans', sans-serif" font-size="11.0"><tspan>C</tspan><tspan font-size="7.7" baseline-shift="-3.3">I</tspan><tspan>Si</tspan><tspan font-size="7.7" baseline-shift="-3.3">I</tspan></text>
<line x1="439.10" y1="537.50" x2="460.40" y2="537.50" stroke="#555555" stroke-width="1.3"/>
<text x="464.20" y="541.50" font-family="'Liberation Sans', sans-serif" font-size="11.0"><tspan>C</tspan><tspan font-size="7.7" baseline-shift="-3.3">I</tspan></text>
<line x1="479.70" y1="537.50" x2="501.20" y2="537.50" stroke="#ee4040" stroke-width="1.3"/>
<text x="504.60" y="541.50" font-family="'Liberation Sans', sans-serif" font-size="11.0"><tspan>Si</tspan><tspan font-size="7.7" baseline-shift="-3.3">I</tspan></text>
<line x1="522.00" y1="537.50" x2="543.50" y2="537.50" stroke="#2b6ee0" stroke-width="1.3"/>
<text x="546.90" y="541.50" font-family="'Liberation Sans', sans-serif" font-size="11.0"><tspan>V</tspan><tspan font-size="7.7" baseline-shift="-3.3">C</tspan></text>
<line x1="565.00" y1="537.50" x2="586.60" y2="537.50" stroke="#22c422" stroke-width="2.2" stroke-dasharray="4.3 4.5"/>
<text x="589.70" y="541.50" font-family="'Liberation Sans', sans-serif" font-size="11.0"><tspan>V</tspan><tspan font-size="7.7" baseline-shift="-3.3">Si</tspan></text>
<line x1="608.80" y1="537.50" x2="631.00" y2="537.50" stroke="#b77ae6" stroke-width="2.2" stroke-dasharray="4.3 4.5"/>
<text x="634.20" y="541.50" font-family="'Liberation Sans', sans-serif" font-size="11.0"><tspan>C</tspan><tspan font-size="7.7" baseline-shift="-3.3">Si</tspan></text>
<line x1="439.10" y1="553.20" x2="460.40" y2="553.20" stroke="#d6a21e" stroke-width="1.3"/>
<text x="464.20" y="557.20" font-family="'Liberation Sans', sans-serif" font-size="11.0"><tspan>C</tspan><tspan font-size="7.7" baseline-shift="-3.3">I</tspan><tspan>V</tspan><tspan font-size="7.7" baseline-shift="-3.3">C</tspan></text>
<line x1="492.30" y1="553.20" x2="514.50" y2="553.20" stroke="#7a4848" stroke-width="2.2" stroke-dasharray="4.3 4.5"/>
<text x="517.70" y="557.20" font-family="'Liberation Sans', sans-serif" font-size="11.0"><tspan>CAV</tspan></text>
<line x1="544.80" y1="553.20" x2="566.50" y2="553.20" stroke="#6a9bd3" stroke-width="1.3"/>
<text x="569.60" y="557.20" font-family="'Liberation Sans', sans-serif" font-size="11.0"><tspan>C</tspan><tspan font-size="7.7" baseline-shift="-3.3">I</tspan><tspan>Si</tspan><tspan font-size="7.7" baseline-shift="-3.3">I</tspan></text>
</svg></body></html>
